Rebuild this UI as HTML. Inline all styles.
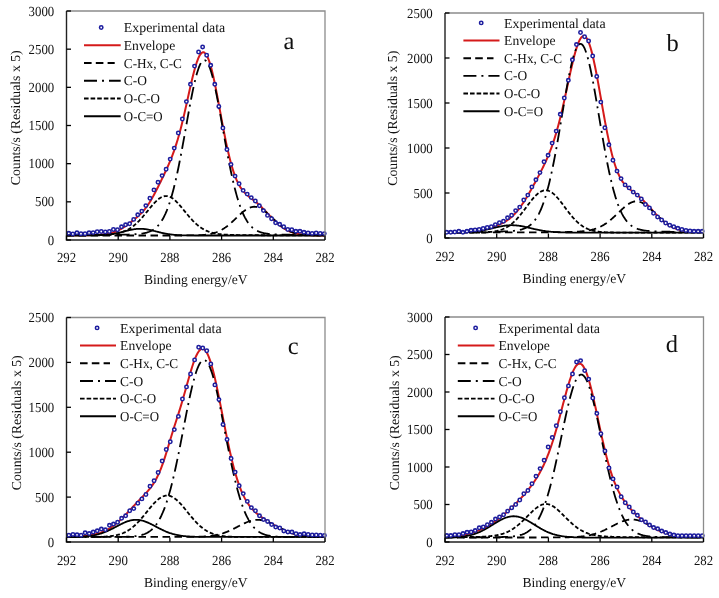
<!DOCTYPE html>
<html><head><meta charset="utf-8"><style>
html,body{margin:0;padding:0;background:#fff;}
svg{display:block; will-change:transform;}
text{font-family:"Liberation Serif", serif; fill:#111; text-rendering:geometricPrecision;}
circle{fill:#fff; stroke:#1c1c9e; stroke-width:1.55;}
</style></head><body>
<svg width="719" height="598" viewBox="0 0 719 598">
<g>
<polyline points="66.5,235.34 67.15,235.33 67.79,235.33 68.44,235.33 69.09,235.32 69.73,235.32 70.38,235.32 71.02,235.31 71.67,235.31 72.32,235.31 72.96,235.3 73.61,235.3 74.26,235.29 74.9,235.29 75.55,235.29 76.19,235.28 76.84,235.28 77.49,235.27 78.13,235.27 78.78,235.26 79.42,235.26 80.07,235.25 80.72,235.25 81.36,235.24 82.01,235.23 82.66,235.23 83.3,235.22 83.95,235.21 84.59,235.21 85.24,235.2 85.89,235.19 86.53,235.18 87.18,235.17 87.83,235.16 88.47,235.15 89.12,235.14 89.76,235.13 90.41,235.11 91.06,235.1 91.7,235.08 92.35,235.07 93,235.05 93.64,235.03 94.29,235.01 94.94,234.99 95.58,234.96 96.23,234.93 96.87,234.9 97.52,234.87 98.17,234.84 98.81,234.8 99.46,234.76 100.11,234.71 100.75,234.66 101.4,234.61 102.04,234.55 102.69,234.49 103.34,234.42 103.98,234.34 104.63,234.26 105.28,234.17 105.92,234.08 106.57,233.97 107.21,233.86 107.86,233.74 108.51,233.61 109.15,233.48 109.8,233.33 110.44,233.17 111.09,233 111.74,232.82 112.38,232.63 113.03,232.43 113.68,232.22 114.32,231.99 114.97,231.75 115.61,231.5 116.26,231.24 116.91,230.96 117.55,230.67 118.2,230.37 118.85,230.05 119.49,229.72 120.14,229.38 120.79,229.03 121.43,228.66 122.08,228.28 122.72,227.89 123.37,227.48 124.02,227.07 124.66,226.64 125.31,226.21 125.96,225.76 126.6,225.31 127.25,224.84 127.89,224.37 128.54,223.89 129.19,223.4 129.83,222.91 130.48,222.42 131.12,221.91 131.77,221.41 132.42,220.9 133.06,220.38 133.71,219.86 134.36,219.34 135,218.81 135.65,218.28 136.29,217.74 136.94,217.19 137.59,216.63 138.23,216.06 138.88,215.48 139.53,214.88 140.17,214.27 140.82,213.63 141.46,212.98 142.11,212.3 142.76,211.6 143.4,210.87 144.05,210.11 144.7,209.32 145.34,208.5 145.99,207.66 146.64,206.78 147.28,205.87 147.93,204.93 148.57,203.96 149.22,202.96 149.87,201.92 150.51,200.87 151.16,199.78 151.81,198.67 152.45,197.53 153.1,196.37 153.74,195.19 154.39,193.98 155.04,192.76 155.68,191.53 156.33,190.27 156.97,189.01 157.62,187.73 158.27,186.44 158.91,185.14 159.56,183.84 160.21,182.52 160.85,181.2 161.5,179.87 162.14,178.54 162.79,177.2 163.44,175.84 164.08,174.49 164.73,173.12 165.38,171.74 166.02,170.34 166.67,168.93 167.31,167.51 167.96,166.06 168.61,164.59 169.25,163.09 169.9,161.56 170.55,160 171.19,158.41 171.84,156.77 172.49,155.09 173.13,153.36 173.78,151.58 174.42,149.75 175.07,147.86 175.72,145.91 176.36,143.9 177.01,141.82 177.66,139.68 178.3,137.47 178.95,135.19 179.59,132.85 180.24,130.43 180.89,127.95 181.53,125.41 182.18,122.81 182.82,120.14 183.47,117.43 184.12,114.66 184.76,111.85 185.41,109 186.06,106.11 186.7,103.21 187.35,100.29 187.99,97.36 188.64,94.43 189.29,91.52 189.93,88.63 190.58,85.77 191.23,82.96 191.87,80.21 192.52,77.52 193.16,74.9 193.81,72.38 194.46,69.96 195.1,67.66 195.75,65.48 196.4,63.43 197.04,61.53 197.69,59.78 198.34,58.2 198.98,56.79 199.63,55.56 200.27,54.52 200.92,53.67 201.57,53.03 202.21,52.59 202.86,52.36 203.51,52.33 204.15,52.52 204.8,52.93 205.44,53.55 206.09,54.37 206.74,55.41 207.38,56.65 208.03,58.1 208.68,59.74 209.32,61.57 209.97,63.58 210.61,65.76 211.26,68.11 211.91,70.62 212.55,73.27 213.2,76.06 213.84,78.98 214.49,82 215.14,85.13 215.78,88.35 216.43,91.65 217.08,95.02 217.72,98.43 218.37,101.89 219.01,105.38 219.66,108.89 220.31,112.4 220.95,115.91 221.6,119.4 222.25,122.87 222.89,126.3 223.54,129.69 224.19,133.02 224.83,136.3 225.48,139.5 226.12,142.63 226.77,145.68 227.42,148.64 228.06,151.51 228.71,154.28 229.36,156.95 230,159.53 230.65,162 231.29,164.36 231.94,166.63 232.59,168.78 233.23,170.83 233.88,172.78 234.53,174.62 235.17,176.37 235.82,178.02 236.46,179.57 237.11,181.03 237.76,182.4 238.4,183.69 239.05,184.9 239.69,186.03 240.34,187.09 240.99,188.08 241.63,189.01 242.28,189.88 242.93,190.69 243.57,191.46 244.22,192.19 244.86,192.87 245.51,193.52 246.16,194.14 246.8,194.73 247.45,195.29 248.1,195.84 248.74,196.37 249.39,196.89 250.04,197.4 250.68,197.91 251.33,198.41 251.97,198.91 252.62,199.41 253.27,199.91 253.91,200.42 254.56,200.94 255.21,201.47 255.85,202 256.5,202.54 257.14,203.1 257.79,203.66 258.44,204.24 259.08,204.83 259.73,205.43 260.38,206.04 261.02,206.66 261.67,207.3 262.31,207.94 262.96,208.59 263.61,209.25 264.25,209.92 264.9,210.6 265.54,211.28 266.19,211.96 266.84,212.65 267.48,213.34 268.13,214.03 268.78,214.71 269.42,215.4 270.07,216.09 270.71,216.77 271.36,217.44 272.01,218.11 272.65,218.78 273.3,219.43 273.95,220.08 274.59,220.71 275.24,221.33 275.89,221.95 276.53,222.55 277.18,223.13 277.82,223.71 278.47,224.26 279.12,224.81 279.76,225.34 280.41,225.85 281.06,226.34 281.7,226.82 282.35,227.29 282.99,227.74 283.64,228.17 284.29,228.58 284.93,228.98 285.58,229.36 286.23,229.73 286.87,230.08 287.52,230.41 288.16,230.73 288.81,231.03 289.46,231.32 290.1,231.6 290.75,231.86 291.39,232.1 292.04,232.34 292.69,232.56 293.33,232.76 293.98,232.96 294.63,233.14 295.27,233.32 295.92,233.48 296.56,233.63 297.21,233.77 297.86,233.91 298.5,234.03 299.15,234.15 299.8,234.25 300.44,234.35 301.09,234.45 301.74,234.53 302.38,234.61 303.03,234.69 303.67,234.76 304.32,234.82 304.97,234.88 305.61,234.93 306.26,234.98 306.91,235.03 307.55,235.07 308.2,235.11 308.84,235.14 309.49,235.17 310.14,235.2 310.78,235.23 311.43,235.25 312.07,235.28 312.72,235.3 313.37,235.31 314.01,235.33 314.66,235.35 315.31,235.36 315.95,235.37 316.6,235.38 317.24,235.39 317.89,235.4 318.54,235.41 319.18,235.42 319.83,235.42 320.48,235.43 321.12,235.43 321.77,235.44 322.41,235.44 323.06,235.45 323.71,235.45 324.35,235.45 325,235.46" fill="none" stroke="#d51a1a" stroke-width="2"/>
<polyline points="66.5,235.5 67.15,235.5 67.79,235.5 68.44,235.5 69.09,235.5 69.73,235.5 70.38,235.5 71.02,235.5 71.67,235.5 72.32,235.5 72.96,235.5 73.61,235.5 74.26,235.5 74.9,235.49 75.55,235.49 76.19,235.49 76.84,235.49 77.49,235.49 78.13,235.49 78.78,235.49 79.42,235.49 80.07,235.49 80.72,235.49 81.36,235.49 82.01,235.49 82.66,235.49 83.3,235.48 83.95,235.48 84.59,235.48 85.24,235.48 85.89,235.48 86.53,235.47 87.18,235.47 87.83,235.47 88.47,235.46 89.12,235.46 89.76,235.45 90.41,235.45 91.06,235.44 91.7,235.43 92.35,235.42 93,235.41 93.64,235.4 94.29,235.39 94.94,235.38 95.58,235.36 96.23,235.35 96.87,235.33 97.52,235.31 98.17,235.29 98.81,235.27 99.46,235.24 100.11,235.21 100.75,235.18 101.4,235.15 102.04,235.11 102.69,235.07 103.34,235.03 103.98,234.99 104.63,234.94 105.28,234.89 105.92,234.83 106.57,234.77 107.21,234.71 107.86,234.64 108.51,234.56 109.15,234.49 109.8,234.41 110.44,234.32 111.09,234.23 111.74,234.13 112.38,234.03 113.03,233.92 113.68,233.81 114.32,233.7 114.97,233.57 115.61,233.45 116.26,233.32 116.91,233.18 117.55,233.04 118.2,232.9 118.85,232.75 119.49,232.6 120.14,232.45 120.79,232.29 121.43,232.13 122.08,231.97 122.72,231.81 123.37,231.64 124.02,231.48 124.66,231.31 125.31,231.15 125.96,230.99 126.6,230.82 127.25,230.66 127.89,230.51 128.54,230.35 129.19,230.2 129.83,230.06 130.48,229.92 131.12,229.78 131.77,229.65 132.42,229.53 133.06,229.42 133.71,229.31 134.36,229.22 135,229.13 135.65,229.05 136.29,228.98 136.94,228.92 137.59,228.87 138.23,228.84 138.88,228.81 139.53,228.79 140.17,228.79 140.82,228.79 141.46,228.81 142.11,228.84 142.76,228.88 143.4,228.93 144.05,228.99 144.7,229.06 145.34,229.14 145.99,229.22 146.64,229.32 147.28,229.43 147.93,229.54 148.57,229.67 149.22,229.79 149.87,229.93 150.51,230.07 151.16,230.22 151.81,230.37 152.45,230.52 153.1,230.68 153.74,230.84 154.39,231 155.04,231.17 155.68,231.33 156.33,231.5 156.97,231.66 157.62,231.82 158.27,231.99 158.91,232.15 159.56,232.31 160.21,232.46 160.85,232.62 161.5,232.77 162.14,232.91 162.79,233.06 163.44,233.2 164.08,233.33 164.73,233.46 165.38,233.59 166.02,233.71 166.67,233.82 167.31,233.93 167.96,234.04 168.61,234.14 169.25,234.24 169.9,234.33 170.55,234.41 171.19,234.49 171.84,234.57 172.49,234.64 173.13,234.71 173.78,234.78 174.42,234.84 175.07,234.89 175.72,234.94 176.36,234.99 177.01,235.04 177.66,235.08 178.3,235.12 178.95,235.15 179.59,235.18 180.24,235.22 180.89,235.24 181.53,235.27 182.18,235.29 182.82,235.31 183.47,235.33 184.12,235.35 184.76,235.36 185.41,235.38 186.06,235.39 186.7,235.4 187.35,235.41 187.99,235.42 188.64,235.43 189.29,235.44 189.93,235.45 190.58,235.45 191.23,235.46 191.87,235.46 192.52,235.47 193.16,235.47 193.81,235.47 194.46,235.48 195.1,235.48 195.75,235.48 196.4,235.48 197.04,235.49 197.69,235.49 198.34,235.49 198.98,235.49 199.63,235.49 200.27,235.49 200.92,235.49 201.57,235.49 202.21,235.49 202.86,235.49 203.51,235.49 204.15,235.49 204.8,235.49 205.44,235.49 206.09,235.5 206.74,235.5 207.38,235.5 208.03,235.5 208.68,235.5 209.32,235.5 209.97,235.5 210.61,235.5 211.26,235.5 211.91,235.5 212.55,235.5 213.2,235.5 213.84,235.5 214.49,235.5 215.14,235.5 215.78,235.5 216.43,235.5 217.08,235.5 217.72,235.5 218.37,235.5 219.01,235.5 219.66,235.5 220.31,235.5 220.95,235.5 221.6,235.5 222.25,235.5 222.89,235.5 223.54,235.5 224.19,235.5 224.83,235.5 225.48,235.5 226.12,235.5 226.77,235.5 227.42,235.5 228.06,235.5 228.71,235.5 229.36,235.5 230,235.5 230.65,235.5 231.29,235.5 231.94,235.5 232.59,235.5 233.23,235.5 233.88,235.5 234.53,235.5 235.17,235.5 235.82,235.5 236.46,235.5 237.11,235.5 237.76,235.5 238.4,235.5 239.05,235.5 239.69,235.5 240.34,235.5 240.99,235.5 241.63,235.5 242.28,235.5 242.93,235.5 243.57,235.5 244.22,235.5 244.86,235.5 245.51,235.5 246.16,235.5 246.8,235.5 247.45,235.5 248.1,235.5 248.74,235.5 249.39,235.5 250.04,235.5 250.68,235.5 251.33,235.5 251.97,235.5 252.62,235.5 253.27,235.5 253.91,235.5 254.56,235.5 255.21,235.5 255.85,235.5 256.5,235.5 257.14,235.5 257.79,235.5 258.44,235.5 259.08,235.5 259.73,235.5 260.38,235.5 261.02,235.5 261.67,235.5 262.31,235.5 262.96,235.5 263.61,235.5 264.25,235.5 264.9,235.5 265.54,235.5 266.19,235.5 266.84,235.5 267.48,235.5 268.13,235.5 268.78,235.5 269.42,235.5 270.07,235.5 270.71,235.5 271.36,235.5 272.01,235.5 272.65,235.5 273.3,235.5 273.95,235.5 274.59,235.5 275.24,235.5 275.89,235.5 276.53,235.5 277.18,235.5 277.82,235.5 278.47,235.5 279.12,235.5 279.76,235.5 280.41,235.5 281.06,235.5 281.7,235.5 282.35,235.5 282.99,235.5 283.64,235.5 284.29,235.5 284.93,235.5 285.58,235.5 286.23,235.5 286.87,235.5 287.52,235.5 288.16,235.5 288.81,235.5 289.46,235.5 290.1,235.5 290.75,235.5 291.39,235.5 292.04,235.5 292.69,235.5 293.33,235.5 293.98,235.5 294.63,235.5 295.27,235.5 295.92,235.5 296.56,235.5 297.21,235.5 297.86,235.5 298.5,235.5 299.15,235.5 299.8,235.5 300.44,235.5 301.09,235.5 301.74,235.5 302.38,235.5 303.03,235.5 303.67,235.5 304.32,235.5 304.97,235.5 305.61,235.5 306.26,235.5 306.91,235.5 307.55,235.5 308.2,235.5 308.84,235.5 309.49,235.5 310.14,235.5 310.78,235.5 311.43,235.5 312.07,235.5 312.72,235.5 313.37,235.5 314.01,235.5 314.66,235.5 315.31,235.5 315.95,235.5 316.6,235.5 317.24,235.5 317.89,235.5 318.54,235.5 319.18,235.5 319.83,235.5 320.48,235.5 321.12,235.5 321.77,235.5 322.41,235.5 323.06,235.5 323.71,235.5 324.35,235.5 325,235.5" fill="none" stroke="#000" stroke-width="1.8"/>
<polyline points="66.5,235.26 67.15,235.25 67.79,235.25 68.44,235.25 69.09,235.24 69.73,235.24 70.38,235.24 71.02,235.23 71.67,235.23 72.32,235.23 72.96,235.22 73.61,235.22 74.26,235.22 74.9,235.21 75.55,235.21 76.19,235.2 76.84,235.2 77.49,235.2 78.13,235.19 78.78,235.19 79.42,235.18 80.07,235.18 80.72,235.17 81.36,235.17 82.01,235.16 82.66,235.16 83.3,235.15 83.95,235.15 84.59,235.14 85.24,235.14 85.89,235.13 86.53,235.12 87.18,235.12 87.83,235.11 88.47,235.1 89.12,235.1 89.76,235.09 90.41,235.08 91.06,235.07 91.7,235.07 92.35,235.06 93,235.05 93.64,235.04 94.29,235.03 94.94,235.02 95.58,235 96.23,234.99 96.87,234.98 97.52,234.96 98.17,234.95 98.81,234.93 99.46,234.92 100.11,234.9 100.75,234.88 101.4,234.86 102.04,234.83 102.69,234.81 103.34,234.78 103.98,234.75 104.63,234.72 105.28,234.69 105.92,234.66 106.57,234.62 107.21,234.58 107.86,234.53 108.51,234.49 109.15,234.43 109.8,234.38 110.44,234.32 111.09,234.26 111.74,234.19 112.38,234.11 113.03,234.03 113.68,233.95 114.32,233.86 114.97,233.76 115.61,233.65 116.26,233.54 116.91,233.41 117.55,233.28 118.2,233.14 118.85,232.99 119.49,232.83 120.14,232.66 120.79,232.48 121.43,232.29 122.08,232.09 122.72,231.87 123.37,231.64 124.02,231.39 124.66,231.13 125.31,230.86 125.96,230.57 126.6,230.26 127.25,229.94 127.89,229.6 128.54,229.25 129.19,228.88 129.83,228.48 130.48,228.08 131.12,227.65 131.77,227.2 132.42,226.74 133.06,226.25 133.71,225.75 134.36,225.22 135,224.68 135.65,224.12 136.29,223.54 136.94,222.94 137.59,222.32 138.23,221.69 138.88,221.04 139.53,220.37 140.17,219.68 140.82,218.98 141.46,218.27 142.11,217.54 142.76,216.79 143.4,216.04 144.05,215.28 144.7,214.51 145.34,213.73 145.99,212.94 146.64,212.15 147.28,211.36 147.93,210.57 148.57,209.77 149.22,208.98 149.87,208.19 150.51,207.41 151.16,206.64 151.81,205.88 152.45,205.13 153.1,204.4 153.74,203.68 154.39,202.98 155.04,202.31 155.68,201.66 156.33,201.03 156.97,200.43 157.62,199.86 158.27,199.33 158.91,198.82 159.56,198.36 160.21,197.93 160.85,197.54 161.5,197.2 162.14,196.89 162.79,196.64 163.44,196.42 164.08,196.25 164.73,196.13 165.38,196.06 166.02,196.04 166.67,196.06 167.31,196.13 167.96,196.25 168.61,196.42 169.25,196.63 169.9,196.89 170.55,197.19 171.19,197.54 171.84,197.93 172.49,198.35 173.13,198.82 173.78,199.32 174.42,199.86 175.07,200.43 175.72,201.02 176.36,201.65 177.01,202.3 177.66,202.98 178.3,203.68 178.95,204.39 179.59,205.13 180.24,205.87 180.89,206.64 181.53,207.41 182.18,208.19 182.82,208.97 183.47,209.77 184.12,210.56 184.76,211.35 185.41,212.15 186.06,212.94 186.7,213.72 187.35,214.5 187.99,215.27 188.64,216.04 189.29,216.79 189.93,217.53 190.58,218.26 191.23,218.97 191.87,219.68 192.52,220.36 193.16,221.03 193.81,221.68 194.46,222.32 195.1,222.94 195.75,223.53 196.4,224.12 197.04,224.68 197.69,225.22 198.34,225.74 198.98,226.25 199.63,226.73 200.27,227.2 200.92,227.64 201.57,228.07 202.21,228.48 202.86,228.87 203.51,229.25 204.15,229.6 204.8,229.94 205.44,230.26 206.09,230.57 206.74,230.86 207.38,231.13 208.03,231.39 208.68,231.63 209.32,231.87 209.97,232.08 210.61,232.29 211.26,232.48 211.91,232.66 212.55,232.83 213.2,232.99 213.84,233.14 214.49,233.28 215.14,233.41 215.78,233.53 216.43,233.65 217.08,233.76 217.72,233.85 218.37,233.95 219.01,234.03 219.66,234.11 220.31,234.19 220.95,234.26 221.6,234.32 222.25,234.38 222.89,234.43 223.54,234.49 224.19,234.53 224.83,234.58 225.48,234.62 226.12,234.66 226.77,234.69 227.42,234.72 228.06,234.75 228.71,234.78 229.36,234.81 230,234.83 230.65,234.86 231.29,234.88 231.94,234.9 232.59,234.91 233.23,234.93 233.88,234.95 234.53,234.96 235.17,234.98 235.82,234.99 236.46,235 237.11,235.02 237.76,235.03 238.4,235.04 239.05,235.05 239.69,235.06 240.34,235.07 240.99,235.07 241.63,235.08 242.28,235.09 242.93,235.1 243.57,235.1 244.22,235.11 244.86,235.12 245.51,235.12 246.16,235.13 246.8,235.14 247.45,235.14 248.1,235.15 248.74,235.15 249.39,235.16 250.04,235.16 250.68,235.17 251.33,235.17 251.97,235.18 252.62,235.18 253.27,235.19 253.91,235.19 254.56,235.2 255.21,235.2 255.85,235.2 256.5,235.21 257.14,235.21 257.79,235.22 258.44,235.22 259.08,235.22 259.73,235.23 260.38,235.23 261.02,235.23 261.67,235.24 262.31,235.24 262.96,235.24 263.61,235.25 264.25,235.25 264.9,235.25 265.54,235.26 266.19,235.26 266.84,235.26 267.48,235.27 268.13,235.27 268.78,235.27 269.42,235.27 270.07,235.28 270.71,235.28 271.36,235.28 272.01,235.28 272.65,235.29 273.3,235.29 273.95,235.29 274.59,235.29 275.24,235.3 275.89,235.3 276.53,235.3 277.18,235.3 277.82,235.3 278.47,235.31 279.12,235.31 279.76,235.31 280.41,235.31 281.06,235.31 281.7,235.32 282.35,235.32 282.99,235.32 283.64,235.32 284.29,235.32 284.93,235.33 285.58,235.33 286.23,235.33 286.87,235.33 287.52,235.33 288.16,235.33 288.81,235.34 289.46,235.34 290.1,235.34 290.75,235.34 291.39,235.34 292.04,235.34 292.69,235.35 293.33,235.35 293.98,235.35 294.63,235.35 295.27,235.35 295.92,235.35 296.56,235.35 297.21,235.36 297.86,235.36 298.5,235.36 299.15,235.36 299.8,235.36 300.44,235.36 301.09,235.36 301.74,235.36 302.38,235.37 303.03,235.37 303.67,235.37 304.32,235.37 304.97,235.37 305.61,235.37 306.26,235.37 306.91,235.37 307.55,235.37 308.2,235.38 308.84,235.38 309.49,235.38 310.14,235.38 310.78,235.38 311.43,235.38 312.07,235.38 312.72,235.38 313.37,235.38 314.01,235.38 314.66,235.39 315.31,235.39 315.95,235.39 316.6,235.39 317.24,235.39 317.89,235.39 318.54,235.39 319.18,235.39 319.83,235.39 320.48,235.39 321.12,235.39 321.77,235.4 322.41,235.4 323.06,235.4 323.71,235.4 324.35,235.4 325,235.4" fill="none" stroke="#000" stroke-width="1.8" stroke-dasharray="4 2.2"/>
<polyline points="66.5,235.5 67.15,235.5 67.79,235.5 68.44,235.5 69.09,235.5 69.73,235.5 70.38,235.5 71.02,235.5 71.67,235.5 72.32,235.5 72.96,235.5 73.61,235.5 74.26,235.5 74.9,235.5 75.55,235.5 76.19,235.5 76.84,235.5 77.49,235.5 78.13,235.5 78.78,235.5 79.42,235.5 80.07,235.5 80.72,235.5 81.36,235.5 82.01,235.5 82.66,235.5 83.3,235.5 83.95,235.5 84.59,235.5 85.24,235.5 85.89,235.5 86.53,235.5 87.18,235.5 87.83,235.5 88.47,235.5 89.12,235.5 89.76,235.5 90.41,235.5 91.06,235.5 91.7,235.5 92.35,235.5 93,235.5 93.64,235.5 94.29,235.5 94.94,235.5 95.58,235.5 96.23,235.5 96.87,235.5 97.52,235.5 98.17,235.5 98.81,235.5 99.46,235.5 100.11,235.5 100.75,235.5 101.4,235.5 102.04,235.5 102.69,235.5 103.34,235.5 103.98,235.5 104.63,235.5 105.28,235.5 105.92,235.5 106.57,235.5 107.21,235.5 107.86,235.5 108.51,235.5 109.15,235.5 109.8,235.5 110.44,235.5 111.09,235.5 111.74,235.5 112.38,235.5 113.03,235.5 113.68,235.5 114.32,235.5 114.97,235.5 115.61,235.5 116.26,235.5 116.91,235.5 117.55,235.5 118.2,235.5 118.85,235.5 119.49,235.5 120.14,235.5 120.79,235.5 121.43,235.5 122.08,235.5 122.72,235.5 123.37,235.5 124.02,235.5 124.66,235.5 125.31,235.5 125.96,235.5 126.6,235.5 127.25,235.5 127.89,235.5 128.54,235.5 129.19,235.5 129.83,235.5 130.48,235.5 131.12,235.5 131.77,235.5 132.42,235.5 133.06,235.5 133.71,235.5 134.36,235.5 135,235.5 135.65,235.5 136.29,235.5 136.94,235.5 137.59,235.5 138.23,235.5 138.88,235.5 139.53,235.5 140.17,235.5 140.82,235.5 141.46,235.5 142.11,235.5 142.76,235.5 143.4,235.5 144.05,235.5 144.7,235.5 145.34,235.5 145.99,235.5 146.64,235.5 147.28,235.5 147.93,235.5 148.57,235.5 149.22,235.5 149.87,235.5 150.51,235.5 151.16,235.5 151.81,235.5 152.45,235.5 153.1,235.5 153.74,235.5 154.39,235.5 155.04,235.5 155.68,235.5 156.33,235.5 156.97,235.5 157.62,235.5 158.27,235.5 158.91,235.5 159.56,235.5 160.21,235.5 160.85,235.5 161.5,235.5 162.14,235.5 162.79,235.5 163.44,235.5 164.08,235.5 164.73,235.5 165.38,235.5 166.02,235.5 166.67,235.5 167.31,235.5 167.96,235.5 168.61,235.5 169.25,235.5 169.9,235.5 170.55,235.5 171.19,235.5 171.84,235.5 172.49,235.5 173.13,235.5 173.78,235.49 174.42,235.49 175.07,235.49 175.72,235.49 176.36,235.49 177.01,235.49 177.66,235.49 178.3,235.49 178.95,235.49 179.59,235.49 180.24,235.49 180.89,235.49 181.53,235.49 182.18,235.49 182.82,235.48 183.47,235.48 184.12,235.48 184.76,235.48 185.41,235.47 186.06,235.47 186.7,235.47 187.35,235.46 187.99,235.46 188.64,235.45 189.29,235.45 189.93,235.44 190.58,235.44 191.23,235.43 191.87,235.42 192.52,235.41 193.16,235.4 193.81,235.38 194.46,235.37 195.1,235.36 195.75,235.34 196.4,235.32 197.04,235.3 197.69,235.27 198.34,235.25 198.98,235.22 199.63,235.19 200.27,235.15 200.92,235.12 201.57,235.07 202.21,235.03 202.86,234.98 203.51,234.92 204.15,234.87 204.8,234.8 205.44,234.73 206.09,234.65 206.74,234.57 207.38,234.48 208.03,234.38 208.68,234.28 209.32,234.17 209.97,234.05 210.61,233.91 211.26,233.77 211.91,233.62 212.55,233.46 213.2,233.29 213.84,233.11 214.49,232.91 215.14,232.7 215.78,232.48 216.43,232.25 217.08,232 217.72,231.74 218.37,231.46 219.01,231.17 219.66,230.86 220.31,230.54 220.95,230.2 221.6,229.85 222.25,229.48 222.89,229.09 223.54,228.69 224.19,228.27 224.83,227.83 225.48,227.38 226.12,226.91 226.77,226.43 227.42,225.94 228.06,225.42 228.71,224.9 229.36,224.36 230,223.81 230.65,223.25 231.29,222.67 231.94,222.09 232.59,221.49 233.23,220.89 233.88,220.29 234.53,219.67 235.17,219.06 235.82,218.44 236.46,217.82 237.11,217.2 237.76,216.58 238.4,215.97 239.05,215.36 239.69,214.76 240.34,214.17 240.99,213.59 241.63,213.02 242.28,212.47 242.93,211.93 243.57,211.42 244.22,210.92 244.86,210.44 245.51,209.98 246.16,209.55 246.8,209.15 247.45,208.77 248.1,208.43 248.74,208.11 249.39,207.82 250.04,207.57 250.68,207.35 251.33,207.16 251.97,207.01 252.62,206.89 253.27,206.81 253.91,206.77 254.56,206.76 255.21,206.79 255.85,206.85 256.5,206.95 257.14,207.09 257.79,207.26 258.44,207.47 259.08,207.7 259.73,207.98 260.38,208.28 261.02,208.61 261.67,208.98 262.31,209.37 262.96,209.79 263.61,210.23 264.25,210.7 264.9,211.19 265.54,211.7 266.19,212.23 266.84,212.77 267.48,213.34 268.13,213.91 268.78,214.5 269.42,215.09 270.07,215.7 270.71,216.31 271.36,216.92 272.01,217.54 272.65,218.16 273.3,218.78 273.95,219.4 274.59,220.01 275.24,220.62 275.89,221.23 276.53,221.82 277.18,222.41 277.82,222.99 278.47,223.56 279.12,224.11 279.76,224.66 280.41,225.19 281.06,225.71 281.7,226.21 282.35,226.7 282.99,227.17 283.64,227.63 284.29,228.07 284.93,228.5 285.58,228.91 286.23,229.3 286.87,229.68 287.52,230.04 288.16,230.39 288.81,230.72 289.46,231.03 290.1,231.33 290.75,231.62 291.39,231.88 292.04,232.14 292.69,232.38 293.33,232.61 293.98,232.82 294.63,233.02 295.27,233.21 295.92,233.39 296.56,233.55 297.21,233.71 297.86,233.85 298.5,233.99 299.15,234.11 299.8,234.23 300.44,234.34 301.09,234.44 301.74,234.53 302.38,234.62 303.03,234.7 303.67,234.77 304.32,234.84 304.97,234.9 305.61,234.96 306.26,235.01 306.91,235.05 307.55,235.1 308.2,235.14 308.84,235.17 309.49,235.21 310.14,235.24 310.78,235.26 311.43,235.29 312.07,235.31 312.72,235.33 313.37,235.35 314.01,235.36 314.66,235.38 315.31,235.39 315.95,235.4 316.6,235.41 317.24,235.42 317.89,235.43 318.54,235.44 319.18,235.45 319.83,235.45 320.48,235.46 321.12,235.46 321.77,235.47 322.41,235.47 323.06,235.47 323.71,235.48 324.35,235.48 325,235.48" fill="none" stroke="#000" stroke-width="1.8" stroke-dasharray="7.5 4.5"/>
<polyline points="66.5,235.21 67.15,235.2 67.79,235.2 68.44,235.2 69.09,235.19 69.73,235.19 70.38,235.19 71.02,235.19 71.67,235.18 72.32,235.18 72.96,235.18 73.61,235.17 74.26,235.17 74.9,235.17 75.55,235.16 76.19,235.16 76.84,235.16 77.49,235.15 78.13,235.15 78.78,235.15 79.42,235.14 80.07,235.14 80.72,235.14 81.36,235.13 82.01,235.13 82.66,235.13 83.3,235.12 83.95,235.12 84.59,235.11 85.24,235.11 85.89,235.11 86.53,235.1 87.18,235.1 87.83,235.09 88.47,235.09 89.12,235.08 89.76,235.08 90.41,235.07 91.06,235.07 91.7,235.07 92.35,235.06 93,235.06 93.64,235.05 94.29,235.05 94.94,235.04 95.58,235.04 96.23,235.03 96.87,235.02 97.52,235.02 98.17,235.01 98.81,235.01 99.46,235 100.11,235 100.75,234.99 101.4,234.98 102.04,234.98 102.69,234.97 103.34,234.97 103.98,234.96 104.63,234.95 105.28,234.95 105.92,234.94 106.57,234.93 107.21,234.92 107.86,234.92 108.51,234.91 109.15,234.9 109.8,234.89 110.44,234.89 111.09,234.88 111.74,234.87 112.38,234.86 113.03,234.85 113.68,234.84 114.32,234.83 114.97,234.82 115.61,234.81 116.26,234.81 116.91,234.79 117.55,234.78 118.2,234.77 118.85,234.76 119.49,234.75 120.14,234.74 120.79,234.73 121.43,234.72 122.08,234.7 122.72,234.69 123.37,234.68 124.02,234.66 124.66,234.65 125.31,234.63 125.96,234.61 126.6,234.6 127.25,234.58 127.89,234.56 128.54,234.54 129.19,234.52 129.83,234.5 130.48,234.47 131.12,234.45 131.77,234.42 132.42,234.39 133.06,234.36 133.71,234.33 134.36,234.29 135,234.25 135.65,234.21 136.29,234.17 136.94,234.12 137.59,234.06 138.23,234.01 138.88,233.94 139.53,233.88 140.17,233.8 140.82,233.72 141.46,233.64 142.11,233.54 142.76,233.44 143.4,233.32 144.05,233.2 144.7,233.07 145.34,232.92 145.99,232.76 146.64,232.59 147.28,232.4 147.93,232.2 148.57,231.98 149.22,231.74 149.87,231.48 150.51,231.19 151.16,230.88 151.81,230.55 152.45,230.19 153.1,229.8 153.74,229.38 154.39,228.93 155.04,228.44 155.68,227.91 156.33,227.34 156.97,226.73 157.62,226.08 158.27,225.38 158.91,224.63 159.56,223.83 160.21,222.97 160.85,222.06 161.5,221.09 162.14,220.05 162.79,218.95 163.44,217.78 164.08,216.54 164.73,215.23 165.38,213.84 166.02,212.38 166.67,210.84 167.31,209.22 167.96,207.51 168.61,205.72 169.25,203.84 169.9,201.87 170.55,199.81 171.19,197.67 171.84,195.43 172.49,193.11 173.13,190.69 173.78,188.18 174.42,185.58 175.07,182.9 175.72,180.12 176.36,177.27 177.01,174.32 177.66,171.3 178.3,168.2 178.95,165.03 179.59,161.78 180.24,158.48 180.89,155.11 181.53,151.68 182.18,148.21 182.82,144.69 183.47,141.13 184.12,137.55 184.76,133.94 185.41,130.32 186.06,126.69 186.7,123.06 187.35,119.44 187.99,115.85 188.64,112.28 189.29,108.75 189.93,105.27 190.58,101.85 191.23,98.49 191.87,95.22 192.52,92.03 193.16,88.94 193.81,85.96 194.46,83.1 195.1,80.36 195.75,77.77 196.4,75.32 197.04,73.03 197.69,70.9 198.34,68.94 198.98,67.16 199.63,65.58 200.27,64.18 200.92,62.98 201.57,61.99 202.21,61.2 202.86,60.63 203.51,60.27 204.15,60.12 204.8,60.19 205.44,60.48 206.09,60.98 206.74,61.69 207.38,62.61 208.03,63.74 208.68,65.06 209.32,66.58 209.97,68.29 210.61,70.19 211.26,72.26 211.91,74.49 212.55,76.89 213.2,79.43 213.84,82.12 214.49,84.94 215.14,87.88 215.78,90.93 216.43,94.08 217.08,97.33 217.72,100.66 218.37,104.06 219.01,107.52 219.66,111.03 220.31,114.59 220.95,118.18 221.6,121.79 222.25,125.41 222.89,129.04 223.54,132.67 224.19,136.28 224.83,139.87 225.48,143.44 226.12,146.97 226.77,150.46 227.42,153.91 228.06,157.3 228.71,160.63 229.36,163.89 230,167.09 230.65,170.22 231.29,173.27 231.94,176.24 232.59,179.13 233.23,181.93 233.88,184.65 234.53,187.28 235.17,189.82 235.82,192.27 236.46,194.62 237.11,196.89 237.76,199.07 238.4,201.16 239.05,203.15 239.69,205.06 240.34,206.89 240.99,208.62 241.63,210.28 242.28,211.85 242.93,213.34 243.57,214.75 244.22,216.09 244.86,217.35 245.51,218.54 246.16,219.67 246.8,220.73 247.45,221.72 248.1,222.66 248.74,223.53 249.39,224.35 250.04,225.12 250.68,225.84 251.33,226.51 251.97,227.13 252.62,227.72 253.27,228.26 253.91,228.76 254.56,229.22 255.21,229.66 255.85,230.06 256.5,230.43 257.14,230.77 257.79,231.09 258.44,231.38 259.08,231.65 259.73,231.9 260.38,232.12 261.02,232.33 261.67,232.53 262.31,232.71 262.96,232.87 263.61,233.02 264.25,233.16 264.9,233.28 265.54,233.4 266.19,233.51 266.84,233.6 267.48,233.69 268.13,233.78 268.78,233.85 269.42,233.92 270.07,233.98 270.71,234.04 271.36,234.1 272.01,234.15 272.65,234.19 273.3,234.24 273.95,234.28 274.59,234.31 275.24,234.35 275.89,234.38 276.53,234.41 277.18,234.44 277.82,234.46 278.47,234.49 279.12,234.51 279.76,234.53 280.41,234.55 281.06,234.57 281.7,234.59 282.35,234.61 282.99,234.63 283.64,234.64 284.29,234.66 284.93,234.67 285.58,234.68 286.23,234.7 286.87,234.71 287.52,234.72 288.16,234.74 288.81,234.75 289.46,234.76 290.1,234.77 290.75,234.78 291.39,234.79 292.04,234.8 292.69,234.81 293.33,234.82 293.98,234.83 294.63,234.84 295.27,234.85 295.92,234.86 296.56,234.87 297.21,234.87 297.86,234.88 298.5,234.89 299.15,234.9 299.8,234.91 300.44,234.91 301.09,234.92 301.74,234.93 302.38,234.94 303.03,234.94 303.67,234.95 304.32,234.96 304.97,234.96 305.61,234.97 306.26,234.98 306.91,234.98 307.55,234.99 308.2,234.99 308.84,235 309.49,235.01 310.14,235.01 310.78,235.02 311.43,235.02 312.07,235.03 312.72,235.03 313.37,235.04 314.01,235.04 314.66,235.05 315.31,235.05 315.95,235.06 316.6,235.06 317.24,235.07 317.89,235.07 318.54,235.08 319.18,235.08 319.83,235.09 320.48,235.09 321.12,235.1 321.77,235.1 322.41,235.1 323.06,235.11 323.71,235.11 324.35,235.12 325,235.12" fill="none" stroke="#000" stroke-width="1.8" stroke-dasharray="13 5 2 5"/>
<circle cx="68.8" cy="233.3" r="1.7"/>
<circle cx="72.85" cy="233.9" r="1.7"/>
<circle cx="76.91" cy="232.8" r="1.7"/>
<circle cx="80.97" cy="233.7" r="1.7"/>
<circle cx="85.02" cy="233.7" r="1.7"/>
<circle cx="89.07" cy="232.8" r="1.7"/>
<circle cx="93.13" cy="232.6" r="1.7"/>
<circle cx="97.19" cy="231.7" r="1.7"/>
<circle cx="101.24" cy="231.5" r="1.7"/>
<circle cx="105.29" cy="231.9" r="1.7"/>
<circle cx="109.35" cy="231.5" r="1.7"/>
<circle cx="113.41" cy="229.5" r="1.7"/>
<circle cx="117.46" cy="229.7" r="1.7"/>
<circle cx="121.51" cy="226.8" r="1.7"/>
<circle cx="125.57" cy="224.8" r="1.7"/>
<circle cx="129.62" cy="223.7" r="1.7"/>
<circle cx="133.68" cy="219.4" r="1.7"/>
<circle cx="137.74" cy="214.8" r="1.7"/>
<circle cx="141.79" cy="211.1" r="1.7"/>
<circle cx="145.84" cy="205.6" r="1.7"/>
<circle cx="149.9" cy="198.2" r="1.7"/>
<circle cx="153.95" cy="189.9" r="1.7"/>
<circle cx="158.01" cy="182.2" r="1.7"/>
<circle cx="162.06" cy="175.6" r="1.7"/>
<circle cx="166.12" cy="169.2" r="1.7"/>
<circle cx="170.18" cy="159.1" r="1.7"/>
<circle cx="174.23" cy="148.1" r="1.7"/>
<circle cx="178.28" cy="133" r="1.7"/>
<circle cx="182.34" cy="119" r="1.7"/>
<circle cx="186.39" cy="101.6" r="1.7"/>
<circle cx="190.45" cy="84.3" r="1.7"/>
<circle cx="194.5" cy="66.1" r="1.7"/>
<circle cx="198.56" cy="52" r="1.7"/>
<circle cx="202.62" cy="46.9" r="1.7"/>
<circle cx="206.67" cy="55.2" r="1.7"/>
<circle cx="210.72" cy="65.3" r="1.7"/>
<circle cx="214.78" cy="84.3" r="1.7"/>
<circle cx="218.83" cy="106.4" r="1.7"/>
<circle cx="222.89" cy="128" r="1.7"/>
<circle cx="226.94" cy="149.5" r="1.7"/>
<circle cx="231" cy="164.4" r="1.7"/>
<circle cx="235.06" cy="176.1" r="1.7"/>
<circle cx="239.11" cy="183.7" r="1.7"/>
<circle cx="243.16" cy="190.4" r="1.7"/>
<circle cx="247.22" cy="194.1" r="1.7"/>
<circle cx="251.27" cy="197.6" r="1.7"/>
<circle cx="255.33" cy="201" r="1.7"/>
<circle cx="259.38" cy="205.8" r="1.7"/>
<circle cx="263.44" cy="210.6" r="1.7"/>
<circle cx="267.5" cy="215.4" r="1.7"/>
<circle cx="271.55" cy="218.7" r="1.7"/>
<circle cx="275.6" cy="222.8" r="1.7"/>
<circle cx="279.66" cy="224.3" r="1.7"/>
<circle cx="283.71" cy="226.7" r="1.7"/>
<circle cx="287.77" cy="229.5" r="1.7"/>
<circle cx="291.82" cy="229.7" r="1.7"/>
<circle cx="295.88" cy="231.3" r="1.7"/>
<circle cx="299.94" cy="231.3" r="1.7"/>
<circle cx="303.99" cy="232.3" r="1.7"/>
<circle cx="308.04" cy="232.9" r="1.7"/>
<circle cx="312.1" cy="233.4" r="1.7"/>
<circle cx="316.15" cy="232.9" r="1.7"/>
<circle cx="320.21" cy="233.4" r="1.7"/>
<circle cx="324.26" cy="233.6" r="1.7"/>
</g>
<path d="M66.5,11H325V240" fill="none" stroke="#8c8c8c" stroke-width="1.3"/>
<path d="M66.5,11V240H325" fill="none" stroke="#222" stroke-width="1.4"/>
<line x1="66.5" y1="240" x2="71.0" y2="240" stroke="#000" stroke-width="1.3"/>
<text x="54.2" y="244.6" text-anchor="end" font-size="13.9" textLength="6.4" lengthAdjust="spacingAndGlyphs">0</text>
<line x1="66.5" y1="201.83" x2="71.0" y2="201.83" stroke="#000" stroke-width="1.3"/>
<text x="54.2" y="206.43" text-anchor="end" font-size="13.9" textLength="19.2" lengthAdjust="spacingAndGlyphs">500</text>
<line x1="66.5" y1="163.67" x2="71.0" y2="163.67" stroke="#000" stroke-width="1.3"/>
<text x="54.2" y="168.27" text-anchor="end" font-size="13.9" textLength="25.6" lengthAdjust="spacingAndGlyphs">1000</text>
<line x1="66.5" y1="125.5" x2="71.0" y2="125.5" stroke="#000" stroke-width="1.3"/>
<text x="54.2" y="130.1" text-anchor="end" font-size="13.9" textLength="25.6" lengthAdjust="spacingAndGlyphs">1500</text>
<line x1="66.5" y1="87.33" x2="71.0" y2="87.33" stroke="#000" stroke-width="1.3"/>
<text x="54.2" y="91.93" text-anchor="end" font-size="13.9" textLength="25.6" lengthAdjust="spacingAndGlyphs">2000</text>
<line x1="66.5" y1="49.17" x2="71.0" y2="49.17" stroke="#000" stroke-width="1.3"/>
<text x="54.2" y="53.77" text-anchor="end" font-size="13.9" textLength="25.6" lengthAdjust="spacingAndGlyphs">2500</text>
<line x1="66.5" y1="11" x2="71.0" y2="11" stroke="#000" stroke-width="1.3"/>
<text x="54.2" y="15.6" text-anchor="end" font-size="13.9" textLength="25.6" lengthAdjust="spacingAndGlyphs">3000</text>
<line x1="66.5" y1="240" x2="66.5" y2="235.5" stroke="#000" stroke-width="1.3"/>
<text x="66.5" y="262.2" text-anchor="middle" font-size="13.9" textLength="19.2" lengthAdjust="spacingAndGlyphs">292</text>
<line x1="118.2" y1="240" x2="118.2" y2="235.5" stroke="#000" stroke-width="1.3"/>
<text x="118.2" y="262.2" text-anchor="middle" font-size="13.9" textLength="19.2" lengthAdjust="spacingAndGlyphs">290</text>
<line x1="169.9" y1="240" x2="169.9" y2="235.5" stroke="#000" stroke-width="1.3"/>
<text x="169.9" y="262.2" text-anchor="middle" font-size="13.9" textLength="19.2" lengthAdjust="spacingAndGlyphs">288</text>
<line x1="221.6" y1="240" x2="221.6" y2="235.5" stroke="#000" stroke-width="1.3"/>
<text x="221.6" y="262.2" text-anchor="middle" font-size="13.9" textLength="19.2" lengthAdjust="spacingAndGlyphs">286</text>
<line x1="273.3" y1="240" x2="273.3" y2="235.5" stroke="#000" stroke-width="1.3"/>
<text x="273.3" y="262.2" text-anchor="middle" font-size="13.9" textLength="19.2" lengthAdjust="spacingAndGlyphs">284</text>
<line x1="325" y1="240" x2="325" y2="235.5" stroke="#000" stroke-width="1.3"/>
<text x="325" y="262.2" text-anchor="middle" font-size="13.9" textLength="19.2" lengthAdjust="spacingAndGlyphs">282</text>
<text x="195.75" y="283.8" text-anchor="middle" font-size="13.7" textLength="103.5" lengthAdjust="spacingAndGlyphs">Binding energy/eV</text>
<text transform="translate(20.4,117.8) rotate(-90)" text-anchor="middle" font-size="13.7" textLength="135" lengthAdjust="spacingAndGlyphs">Counts/s (Residuals x 5)</text>
<text x="283.6" y="49.3" font-size="24.5">a</text>
<circle cx="101.2" cy="27.5" r="1.7"/>
<line x1="84" y1="45.25" x2="120.7" y2="45.25" stroke="#d51a1a" stroke-width="2"/>
<line x1="84" y1="63" x2="114.7" y2="63" stroke="#000" stroke-width="1.9" stroke-dasharray="7.6 4.2"/>
<line x1="84" y1="80.75" x2="120.7" y2="80.75" stroke="#000" stroke-width="1.9" stroke-dasharray="13 5 2 5"/>
<line x1="84" y1="98.5" x2="120.7" y2="98.5" stroke="#000" stroke-width="1.9" stroke-dasharray="4.6 2"/>
<line x1="84" y1="116.25" x2="120.7" y2="116.25" stroke="#000" stroke-width="1.9"/>
<text x="123.8" y="32.1" font-size="13.7" textLength="101.5" lengthAdjust="spacingAndGlyphs">Experimental data</text>
<text x="123.8" y="49.85" font-size="13.7" textLength="51.4" lengthAdjust="spacingAndGlyphs">Envelope</text>
<text x="123.8" y="67.6" font-size="13.7" textLength="58.1" lengthAdjust="spacingAndGlyphs">C-Hx, C-C</text>
<text x="123.8" y="85.35" font-size="13.7" textLength="23.1" lengthAdjust="spacingAndGlyphs">C-O</text>
<text x="123.8" y="103.1" font-size="13.7" textLength="36.1" lengthAdjust="spacingAndGlyphs">O-C-O</text>
<text x="123.8" y="120.85" font-size="13.7" textLength="38.9" lengthAdjust="spacingAndGlyphs">O-C=O</text>
<g>
<polyline points="445,232.52 445.65,232.52 446.29,232.51 446.94,232.51 447.59,232.51 448.23,232.5 448.88,232.5 449.52,232.49 450.17,232.48 450.82,232.48 451.46,232.47 452.11,232.46 452.76,232.45 453.4,232.44 454.05,232.43 454.69,232.42 455.34,232.4 455.99,232.39 456.63,232.37 457.28,232.35 457.93,232.33 458.57,232.31 459.22,232.29 459.86,232.26 460.51,232.23 461.16,232.2 461.8,232.17 462.45,232.14 463.09,232.1 463.74,232.06 464.39,232.02 465.03,231.97 465.68,231.92 466.33,231.87 466.97,231.81 467.62,231.75 468.26,231.69 468.91,231.63 469.56,231.56 470.2,231.48 470.85,231.4 471.5,231.32 472.14,231.24 472.79,231.15 473.44,231.06 474.08,230.96 474.73,230.86 475.37,230.75 476.02,230.64 476.67,230.53 477.31,230.41 477.96,230.29 478.61,230.17 479.25,230.04 479.9,229.91 480.54,229.77 481.19,229.64 481.84,229.5 482.48,229.35 483.13,229.2 483.77,229.05 484.42,228.9 485.07,228.75 485.71,228.59 486.36,228.43 487.01,228.26 487.65,228.1 488.3,227.93 488.94,227.75 489.59,227.58 490.24,227.4 490.88,227.22 491.53,227.04 492.18,226.85 492.82,226.66 493.47,226.46 494.11,226.26 494.76,226.06 495.41,225.85 496.05,225.63 496.7,225.41 497.35,225.18 497.99,224.94 498.64,224.7 499.29,224.45 499.93,224.18 500.58,223.91 501.22,223.63 501.87,223.33 502.52,223.03 503.16,222.7 503.81,222.37 504.46,222.02 505.1,221.65 505.75,221.27 506.39,220.87 507.04,220.45 507.69,220.02 508.33,219.56 508.98,219.09 509.62,218.59 510.27,218.07 510.92,217.53 511.56,216.97 512.21,216.38 512.86,215.77 513.5,215.14 514.15,214.49 514.79,213.8 515.44,213.1 516.09,212.37 516.73,211.62 517.38,210.84 518.03,210.04 518.67,209.22 519.32,208.37 519.96,207.5 520.61,206.61 521.26,205.7 521.9,204.76 522.55,203.81 523.2,202.83 523.84,201.84 524.49,200.83 525.14,199.8 525.78,198.75 526.43,197.69 527.07,196.62 527.72,195.53 528.37,194.43 529.01,193.32 529.66,192.2 530.31,191.06 530.95,189.92 531.6,188.77 532.24,187.61 532.89,186.45 533.54,185.27 534.18,184.09 534.83,182.91 535.48,181.71 536.12,180.52 536.77,179.31 537.41,178.1 538.06,176.88 538.71,175.65 539.35,174.42 540,173.17 540.64,171.92 541.29,170.65 541.94,169.37 542.58,168.07 543.23,166.76 543.88,165.42 544.52,164.07 545.17,162.69 545.81,161.29 546.46,159.85 547.11,158.39 547.75,156.89 548.4,155.36 549.05,153.78 549.69,152.17 550.34,150.51 550.99,148.8 551.63,147.04 552.28,145.23 552.92,143.36 553.57,141.44 554.22,139.45 554.86,137.41 555.51,135.3 556.16,133.13 556.8,130.89 557.45,128.59 558.09,126.22 558.74,123.78 559.39,121.29 560.03,118.73 560.68,116.1 561.33,113.42 561.97,110.69 562.62,107.9 563.26,105.06 563.91,102.18 564.56,99.26 565.2,96.31 565.85,93.33 566.49,90.34 567.14,87.33 567.79,84.32 568.43,81.31 569.08,78.32 569.73,75.35 570.37,72.41 571.02,69.52 571.66,66.68 572.31,63.9 572.96,61.2 573.6,58.58 574.25,56.05 574.9,53.63 575.54,51.33 576.19,49.16 576.84,47.12 577.48,45.22 578.13,43.48 578.77,41.91 579.42,40.51 580.07,39.28 580.71,38.25 581.36,37.4 582.01,36.76 582.65,36.32 583.3,36.08 583.94,36.06 584.59,36.24 585.24,36.64 585.88,37.25 586.53,38.07 587.17,39.11 587.82,40.35 588.47,41.79 589.11,43.43 589.76,45.27 590.41,47.29 591.05,49.5 591.7,51.87 592.34,54.41 592.99,57.1 593.64,59.94 594.28,62.92 594.93,66.01 595.58,69.22 596.22,72.53 596.87,75.93 597.51,79.4 598.16,82.94 598.81,86.53 599.45,90.17 600.1,93.83 600.75,97.51 601.39,101.2 602.04,104.88 602.69,108.55 603.33,112.18 603.98,115.79 604.62,119.34 605.27,122.85 605.92,126.29 606.56,129.66 607.21,132.95 607.86,136.16 608.5,139.28 609.15,142.3 609.79,145.23 610.44,148.05 611.09,150.77 611.73,153.38 612.38,155.89 613.02,158.28 613.67,160.56 614.32,162.73 614.96,164.79 615.61,166.75 616.26,168.59 616.9,170.33 617.55,171.97 618.19,173.52 618.84,174.96 619.49,176.32 620.13,177.59 620.78,178.77 621.43,179.88 622.07,180.91 622.72,181.87 623.36,182.77 624.01,183.61 624.66,184.4 625.3,185.13 625.95,185.82 626.6,186.47 627.24,187.09 627.89,187.68 628.54,188.24 629.18,188.77 629.83,189.29 630.47,189.8 631.12,190.29 631.77,190.78 632.41,191.27 633.06,191.75 633.71,192.24 634.35,192.73 635,193.22 635.64,193.72 636.29,194.23 636.94,194.76 637.58,195.29 638.23,195.83 638.88,196.39 639.52,196.96 640.17,197.55 640.81,198.14 641.46,198.75 642.11,199.38 642.75,200.01 643.4,200.66 644.04,201.32 644.69,201.99 645.34,202.67 645.98,203.35 646.63,204.05 647.28,204.75 647.92,205.45 648.57,206.16 649.21,206.88 649.86,207.59 650.51,208.31 651.15,209.03 651.8,209.74 652.45,210.45 653.09,211.16 653.74,211.87 654.39,212.56 655.03,213.26 655.68,213.94 656.32,214.62 656.97,215.28 657.62,215.94 658.26,216.58 658.91,217.21 659.56,217.83 660.2,218.44 660.85,219.04 661.49,219.62 662.14,220.18 662.79,220.73 663.43,221.27 664.08,221.79 664.73,222.29 665.37,222.78 666.02,223.25 666.66,223.71 667.31,224.15 667.96,224.57 668.6,224.98 669.25,225.37 669.89,225.75 670.54,226.11 671.19,226.46 671.83,226.79 672.48,227.11 673.13,227.41 673.77,227.7 674.42,227.97 675.06,228.23 675.71,228.48 676.36,228.72 677,228.94 677.65,229.15 678.3,229.35 678.94,229.54 679.59,229.72 680.24,229.89 680.88,230.05 681.53,230.2 682.17,230.34 682.82,230.47 683.47,230.6 684.11,230.72 684.76,230.82 685.41,230.93 686.05,231.02 686.7,231.11 687.34,231.2 687.99,231.28 688.64,231.35 689.28,231.42 689.93,231.48 690.58,231.54 691.22,231.6 691.87,231.65 692.51,231.7 693.16,231.74 693.81,231.78 694.45,231.82 695.1,231.86 695.74,231.89 696.39,231.92 697.04,231.95 697.68,231.98 698.33,232 698.98,232.02 699.62,232.04 700.27,232.06 700.91,232.08 701.56,232.1 702.21,232.12 702.85,232.13 703.5,232.15" fill="none" stroke="#d51a1a" stroke-width="2"/>
<polyline points="445,232.59 445.65,232.58 446.29,232.58 446.94,232.58 447.59,232.58 448.23,232.58 448.88,232.57 449.52,232.57 450.17,232.57 450.82,232.56 451.46,232.56 452.11,232.55 452.76,232.55 453.4,232.54 454.05,232.53 454.69,232.53 455.34,232.52 455.99,232.51 456.63,232.5 457.28,232.49 457.93,232.48 458.57,232.47 459.22,232.45 459.86,232.44 460.51,232.42 461.16,232.4 461.8,232.38 462.45,232.36 463.09,232.34 463.74,232.32 464.39,232.29 465.03,232.26 465.68,232.23 466.33,232.2 466.97,232.17 467.62,232.13 468.26,232.09 468.91,232.05 469.56,232.01 470.2,231.96 470.85,231.91 471.5,231.85 472.14,231.8 472.79,231.74 473.44,231.67 474.08,231.61 474.73,231.54 475.37,231.46 476.02,231.39 476.67,231.31 477.31,231.22 477.96,231.13 478.61,231.04 479.25,230.94 479.9,230.84 480.54,230.74 481.19,230.63 481.84,230.51 482.48,230.4 483.13,230.28 483.77,230.16 484.42,230.03 485.07,229.9 485.71,229.76 486.36,229.63 487.01,229.49 487.65,229.35 488.3,229.2 488.94,229.05 489.59,228.91 490.24,228.76 490.88,228.6 491.53,228.45 492.18,228.3 492.82,228.14 493.47,227.99 494.11,227.83 494.76,227.68 495.41,227.53 496.05,227.38 496.7,227.23 497.35,227.08 497.99,226.94 498.64,226.8 499.29,226.66 499.93,226.53 500.58,226.4 501.22,226.28 501.87,226.16 502.52,226.04 503.16,225.94 503.81,225.84 504.46,225.74 505.1,225.66 505.75,225.58 506.39,225.5 507.04,225.44 507.69,225.38 508.33,225.33 508.98,225.29 509.62,225.26 510.27,225.24 510.92,225.22 511.56,225.22 512.21,225.22 512.86,225.23 513.5,225.25 514.15,225.28 514.79,225.32 515.44,225.36 516.09,225.42 516.73,225.48 517.38,225.55 518.03,225.63 518.67,225.71 519.32,225.81 519.96,225.9 520.61,226.01 521.26,226.12 521.9,226.24 522.55,226.36 523.2,226.49 523.84,226.62 524.49,226.75 525.14,226.89 525.78,227.04 526.43,227.18 527.07,227.33 527.72,227.48 528.37,227.63 529.01,227.79 529.66,227.94 530.31,228.09 530.95,228.25 531.6,228.4 532.24,228.55 532.89,228.71 533.54,228.86 534.18,229.01 534.83,229.15 535.48,229.3 536.12,229.44 536.77,229.58 537.41,229.72 538.06,229.86 538.71,229.99 539.35,230.12 540,230.24 540.64,230.36 541.29,230.48 541.94,230.59 542.58,230.7 543.23,230.81 543.88,230.91 544.52,231.01 545.17,231.1 545.81,231.19 546.46,231.28 547.11,231.36 547.75,231.44 548.4,231.51 549.05,231.59 549.69,231.65 550.34,231.72 550.99,231.78 551.63,231.84 552.28,231.89 552.92,231.94 553.57,231.99 554.22,232.04 554.86,232.08 555.51,232.12 556.16,232.16 556.8,232.19 557.45,232.22 558.09,232.25 558.74,232.28 559.39,232.31 560.03,232.33 560.68,232.36 561.33,232.38 561.97,232.4 562.62,232.42 563.26,232.43 563.91,232.45 564.56,232.46 565.2,232.47 565.85,232.49 566.49,232.5 567.14,232.51 567.79,232.52 568.43,232.52 569.08,232.53 569.73,232.54 570.37,232.54 571.02,232.55 571.66,232.56 572.31,232.56 572.96,232.56 573.6,232.57 574.25,232.57 574.9,232.57 575.54,232.58 576.19,232.58 576.84,232.58 577.48,232.58 578.13,232.59 578.77,232.59 579.42,232.59 580.07,232.59 580.71,232.59 581.36,232.59 582.01,232.59 582.65,232.59 583.3,232.59 583.94,232.6 584.59,232.6 585.24,232.6 585.88,232.6 586.53,232.6 587.17,232.6 587.82,232.6 588.47,232.6 589.11,232.6 589.76,232.6 590.41,232.6 591.05,232.6 591.7,232.6 592.34,232.6 592.99,232.6 593.64,232.6 594.28,232.6 594.93,232.6 595.58,232.6 596.22,232.6 596.87,232.6 597.51,232.6 598.16,232.6 598.81,232.6 599.45,232.6 600.1,232.6 600.75,232.6 601.39,232.6 602.04,232.6 602.69,232.6 603.33,232.6 603.98,232.6 604.62,232.6 605.27,232.6 605.92,232.6 606.56,232.6 607.21,232.6 607.86,232.6 608.5,232.6 609.15,232.6 609.79,232.6 610.44,232.6 611.09,232.6 611.73,232.6 612.38,232.6 613.02,232.6 613.67,232.6 614.32,232.6 614.96,232.6 615.61,232.6 616.26,232.6 616.9,232.6 617.55,232.6 618.19,232.6 618.84,232.6 619.49,232.6 620.13,232.6 620.78,232.6 621.43,232.6 622.07,232.6 622.72,232.6 623.36,232.6 624.01,232.6 624.66,232.6 625.3,232.6 625.95,232.6 626.6,232.6 627.24,232.6 627.89,232.6 628.54,232.6 629.18,232.6 629.83,232.6 630.47,232.6 631.12,232.6 631.77,232.6 632.41,232.6 633.06,232.6 633.71,232.6 634.35,232.6 635,232.6 635.64,232.6 636.29,232.6 636.94,232.6 637.58,232.6 638.23,232.6 638.88,232.6 639.52,232.6 640.17,232.6 640.81,232.6 641.46,232.6 642.11,232.6 642.75,232.6 643.4,232.6 644.04,232.6 644.69,232.6 645.34,232.6 645.98,232.6 646.63,232.6 647.28,232.6 647.92,232.6 648.57,232.6 649.21,232.6 649.86,232.6 650.51,232.6 651.15,232.6 651.8,232.6 652.45,232.6 653.09,232.6 653.74,232.6 654.39,232.6 655.03,232.6 655.68,232.6 656.32,232.6 656.97,232.6 657.62,232.6 658.26,232.6 658.91,232.6 659.56,232.6 660.2,232.6 660.85,232.6 661.49,232.6 662.14,232.6 662.79,232.6 663.43,232.6 664.08,232.6 664.73,232.6 665.37,232.6 666.02,232.6 666.66,232.6 667.31,232.6 667.96,232.6 668.6,232.6 669.25,232.6 669.89,232.6 670.54,232.6 671.19,232.6 671.83,232.6 672.48,232.6 673.13,232.6 673.77,232.6 674.42,232.6 675.06,232.6 675.71,232.6 676.36,232.6 677,232.6 677.65,232.6 678.3,232.6 678.94,232.6 679.59,232.6 680.24,232.6 680.88,232.6 681.53,232.6 682.17,232.6 682.82,232.6 683.47,232.6 684.11,232.6 684.76,232.6 685.41,232.6 686.05,232.6 686.7,232.6 687.34,232.6 687.99,232.6 688.64,232.6 689.28,232.6 689.93,232.6 690.58,232.6 691.22,232.6 691.87,232.6 692.51,232.6 693.16,232.6 693.81,232.6 694.45,232.6 695.1,232.6 695.74,232.6 696.39,232.6 697.04,232.6 697.68,232.6 698.33,232.6 698.98,232.6 699.62,232.6 700.27,232.6 700.91,232.6 701.56,232.6 702.21,232.6 702.85,232.6 703.5,232.6" fill="none" stroke="#000" stroke-width="1.8"/>
<polyline points="445,232.6 445.65,232.6 446.29,232.6 446.94,232.6 447.59,232.6 448.23,232.6 448.88,232.6 449.52,232.6 450.17,232.6 450.82,232.6 451.46,232.6 452.11,232.6 452.76,232.6 453.4,232.6 454.05,232.6 454.69,232.6 455.34,232.6 455.99,232.6 456.63,232.6 457.28,232.6 457.93,232.6 458.57,232.6 459.22,232.6 459.86,232.6 460.51,232.6 461.16,232.6 461.8,232.6 462.45,232.6 463.09,232.6 463.74,232.6 464.39,232.6 465.03,232.59 465.68,232.59 466.33,232.59 466.97,232.59 467.62,232.59 468.26,232.59 468.91,232.59 469.56,232.58 470.2,232.58 470.85,232.58 471.5,232.58 472.14,232.57 472.79,232.57 473.44,232.57 474.08,232.56 474.73,232.56 475.37,232.55 476.02,232.55 476.67,232.54 477.31,232.53 477.96,232.52 478.61,232.51 479.25,232.5 479.9,232.49 480.54,232.47 481.19,232.46 481.84,232.44 482.48,232.42 483.13,232.4 483.77,232.38 484.42,232.35 485.07,232.32 485.71,232.29 486.36,232.26 487.01,232.22 487.65,232.18 488.3,232.13 488.94,232.08 489.59,232.03 490.24,231.97 490.88,231.9 491.53,231.83 492.18,231.76 492.82,231.67 493.47,231.58 494.11,231.49 494.76,231.38 495.41,231.27 496.05,231.14 496.7,231.01 497.35,230.87 497.99,230.71 498.64,230.55 499.29,230.37 499.93,230.18 500.58,229.98 501.22,229.76 501.87,229.53 502.52,229.28 503.16,229.02 503.81,228.74 504.46,228.45 505.1,228.14 505.75,227.81 506.39,227.46 507.04,227.09 507.69,226.71 508.33,226.3 508.98,225.87 509.62,225.42 510.27,224.96 510.92,224.47 511.56,223.95 512.21,223.42 512.86,222.87 513.5,222.29 514.15,221.69 514.79,221.07 515.44,220.43 516.09,219.77 516.73,219.09 517.38,218.39 518.03,217.67 518.67,216.93 519.32,216.17 519.96,215.4 520.61,214.61 521.26,213.8 521.9,212.98 522.55,212.15 523.2,211.31 523.84,210.46 524.49,209.61 525.14,208.74 525.78,207.88 526.43,207.01 527.07,206.14 527.72,205.27 528.37,204.41 529.01,203.55 529.66,202.7 530.31,201.86 530.95,201.04 531.6,200.22 532.24,199.43 532.89,198.66 533.54,197.9 534.18,197.18 534.83,196.47 535.48,195.8 536.12,195.16 536.77,194.55 537.41,193.97 538.06,193.43 538.71,192.93 539.35,192.47 540,192.05 540.64,191.67 541.29,191.33 541.94,191.04 542.58,190.8 543.23,190.6 543.88,190.45 544.52,190.35 545.17,190.3 545.81,190.29 546.46,190.34 547.11,190.43 547.75,190.57 548.4,190.76 549.05,191 549.69,191.28 550.34,191.6 550.99,191.98 551.63,192.39 552.28,192.84 552.92,193.34 553.57,193.87 554.22,194.44 554.86,195.05 555.51,195.69 556.16,196.35 556.8,197.05 557.45,197.77 558.09,198.52 558.74,199.29 559.39,200.08 560.03,200.89 560.68,201.71 561.33,202.55 561.97,203.4 562.62,204.25 563.26,205.12 563.91,205.98 564.56,206.85 565.2,207.72 565.85,208.59 566.49,209.45 567.14,210.31 567.79,211.16 568.43,212.01 569.08,212.84 569.73,213.66 570.37,214.47 571.02,215.26 571.66,216.04 572.31,216.8 572.96,217.54 573.6,218.26 574.25,218.97 574.9,219.65 575.54,220.32 576.19,220.96 576.84,221.59 577.48,222.19 578.13,222.77 578.77,223.33 579.42,223.86 580.07,224.38 580.71,224.87 581.36,225.34 582.01,225.79 582.65,226.23 583.3,226.64 583.94,227.03 584.59,227.4 585.24,227.75 585.88,228.08 586.53,228.4 587.17,228.69 587.82,228.97 588.47,229.24 589.11,229.49 589.76,229.72 590.41,229.94 591.05,230.14 591.7,230.34 592.34,230.52 592.99,230.68 593.64,230.84 594.28,230.98 594.93,231.12 595.58,231.24 596.22,231.36 596.87,231.47 597.51,231.57 598.16,231.66 598.81,231.74 599.45,231.82 600.1,231.89 600.75,231.96 601.39,232.02 602.04,232.07 602.69,232.12 603.33,232.17 603.98,232.21 604.62,232.25 605.27,232.29 605.92,232.32 606.56,232.35 607.21,232.37 607.86,232.4 608.5,232.42 609.15,232.44 609.79,232.45 610.44,232.47 611.09,232.48 611.73,232.5 612.38,232.51 613.02,232.52 613.67,232.53 614.32,232.54 614.96,232.54 615.61,232.55 616.26,232.56 616.9,232.56 617.55,232.57 618.19,232.57 618.84,232.57 619.49,232.58 620.13,232.58 620.78,232.58 621.43,232.58 622.07,232.59 622.72,232.59 623.36,232.59 624.01,232.59 624.66,232.59 625.3,232.59 625.95,232.59 626.6,232.59 627.24,232.6 627.89,232.6 628.54,232.6 629.18,232.6 629.83,232.6 630.47,232.6 631.12,232.6 631.77,232.6 632.41,232.6 633.06,232.6 633.71,232.6 634.35,232.6 635,232.6 635.64,232.6 636.29,232.6 636.94,232.6 637.58,232.6 638.23,232.6 638.88,232.6 639.52,232.6 640.17,232.6 640.81,232.6 641.46,232.6 642.11,232.6 642.75,232.6 643.4,232.6 644.04,232.6 644.69,232.6 645.34,232.6 645.98,232.6 646.63,232.6 647.28,232.6 647.92,232.6 648.57,232.6 649.21,232.6 649.86,232.6 650.51,232.6 651.15,232.6 651.8,232.6 652.45,232.6 653.09,232.6 653.74,232.6 654.39,232.6 655.03,232.6 655.68,232.6 656.32,232.6 656.97,232.6 657.62,232.6 658.26,232.6 658.91,232.6 659.56,232.6 660.2,232.6 660.85,232.6 661.49,232.6 662.14,232.6 662.79,232.6 663.43,232.6 664.08,232.6 664.73,232.6 665.37,232.6 666.02,232.6 666.66,232.6 667.31,232.6 667.96,232.6 668.6,232.6 669.25,232.6 669.89,232.6 670.54,232.6 671.19,232.6 671.83,232.6 672.48,232.6 673.13,232.6 673.77,232.6 674.42,232.6 675.06,232.6 675.71,232.6 676.36,232.6 677,232.6 677.65,232.6 678.3,232.6 678.94,232.6 679.59,232.6 680.24,232.6 680.88,232.6 681.53,232.6 682.17,232.6 682.82,232.6 683.47,232.6 684.11,232.6 684.76,232.6 685.41,232.6 686.05,232.6 686.7,232.6 687.34,232.6 687.99,232.6 688.64,232.6 689.28,232.6 689.93,232.6 690.58,232.6 691.22,232.6 691.87,232.6 692.51,232.6 693.16,232.6 693.81,232.6 694.45,232.6 695.1,232.6 695.74,232.6 696.39,232.6 697.04,232.6 697.68,232.6 698.33,232.6 698.98,232.6 699.62,232.6 700.27,232.6 700.91,232.6 701.56,232.6 702.21,232.6 702.85,232.6 703.5,232.6" fill="none" stroke="#000" stroke-width="1.8" stroke-dasharray="4 2.2"/>
<polyline points="445,232.52 445.65,232.52 446.29,232.52 446.94,232.52 447.59,232.52 448.23,232.52 448.88,232.52 449.52,232.52 450.17,232.52 450.82,232.52 451.46,232.52 452.11,232.52 452.76,232.52 453.4,232.52 454.05,232.51 454.69,232.51 455.34,232.51 455.99,232.51 456.63,232.51 457.28,232.51 457.93,232.51 458.57,232.51 459.22,232.51 459.86,232.51 460.51,232.51 461.16,232.51 461.8,232.51 462.45,232.51 463.09,232.51 463.74,232.51 464.39,232.5 465.03,232.5 465.68,232.5 466.33,232.5 466.97,232.5 467.62,232.5 468.26,232.5 468.91,232.5 469.56,232.5 470.2,232.5 470.85,232.5 471.5,232.5 472.14,232.5 472.79,232.49 473.44,232.49 474.08,232.49 474.73,232.49 475.37,232.49 476.02,232.49 476.67,232.49 477.31,232.49 477.96,232.49 478.61,232.49 479.25,232.49 479.9,232.48 480.54,232.48 481.19,232.48 481.84,232.48 482.48,232.48 483.13,232.48 483.77,232.48 484.42,232.48 485.07,232.48 485.71,232.48 486.36,232.47 487.01,232.47 487.65,232.47 488.3,232.47 488.94,232.47 489.59,232.47 490.24,232.47 490.88,232.47 491.53,232.47 492.18,232.46 492.82,232.46 493.47,232.46 494.11,232.46 494.76,232.46 495.41,232.46 496.05,232.46 496.7,232.46 497.35,232.45 497.99,232.45 498.64,232.45 499.29,232.45 499.93,232.45 500.58,232.45 501.22,232.45 501.87,232.45 502.52,232.44 503.16,232.44 503.81,232.44 504.46,232.44 505.1,232.44 505.75,232.44 506.39,232.43 507.04,232.43 507.69,232.43 508.33,232.43 508.98,232.43 509.62,232.43 510.27,232.42 510.92,232.42 511.56,232.42 512.21,232.42 512.86,232.42 513.5,232.42 514.15,232.41 514.79,232.41 515.44,232.41 516.09,232.41 516.73,232.41 517.38,232.4 518.03,232.4 518.67,232.4 519.32,232.4 519.96,232.4 520.61,232.39 521.26,232.39 521.9,232.39 522.55,232.39 523.2,232.38 523.84,232.38 524.49,232.38 525.14,232.38 525.78,232.37 526.43,232.37 527.07,232.37 527.72,232.37 528.37,232.36 529.01,232.36 529.66,232.36 530.31,232.36 530.95,232.35 531.6,232.35 532.24,232.35 532.89,232.34 533.54,232.34 534.18,232.34 534.83,232.33 535.48,232.33 536.12,232.33 536.77,232.32 537.41,232.32 538.06,232.32 538.71,232.31 539.35,232.31 540,232.31 540.64,232.3 541.29,232.3 541.94,232.29 542.58,232.29 543.23,232.29 543.88,232.28 544.52,232.28 545.17,232.27 545.81,232.27 546.46,232.26 547.11,232.26 547.75,232.26 548.4,232.25 549.05,232.25 549.69,232.24 550.34,232.24 550.99,232.23 551.63,232.22 552.28,232.22 552.92,232.21 553.57,232.21 554.22,232.2 554.86,232.19 555.51,232.19 556.16,232.18 556.8,232.17 557.45,232.17 558.09,232.16 558.74,232.15 559.39,232.15 560.03,232.14 560.68,232.13 561.33,232.12 561.97,232.11 562.62,232.1 563.26,232.09 563.91,232.08 564.56,232.07 565.2,232.06 565.85,232.05 566.49,232.04 567.14,232.02 567.79,232.01 568.43,231.99 569.08,231.98 569.73,231.96 570.37,231.94 571.02,231.93 571.66,231.91 572.31,231.89 572.96,231.86 573.6,231.84 574.25,231.81 574.9,231.79 575.54,231.76 576.19,231.73 576.84,231.69 577.48,231.66 578.13,231.62 578.77,231.58 579.42,231.54 580.07,231.49 580.71,231.44 581.36,231.39 582.01,231.33 582.65,231.27 583.3,231.2 583.94,231.13 584.59,231.06 585.24,230.98 585.88,230.89 586.53,230.8 587.17,230.7 587.82,230.59 588.47,230.48 589.11,230.36 589.76,230.24 590.41,230.1 591.05,229.96 591.7,229.8 592.34,229.64 592.99,229.47 593.64,229.29 594.28,229.1 594.93,228.89 595.58,228.68 596.22,228.45 596.87,228.21 597.51,227.96 598.16,227.7 598.81,227.42 599.45,227.13 600.1,226.83 600.75,226.51 601.39,226.18 602.04,225.83 602.69,225.47 603.33,225.1 603.98,224.71 604.62,224.3 605.27,223.88 605.92,223.45 606.56,223 607.21,222.53 607.86,222.06 608.5,221.56 609.15,221.06 609.79,220.54 610.44,220.01 611.09,219.47 611.73,218.91 612.38,218.34 613.02,217.77 613.67,217.18 614.32,216.59 614.96,215.99 615.61,215.38 616.26,214.77 616.9,214.15 617.55,213.53 618.19,212.91 618.84,212.29 619.49,211.67 620.13,211.05 620.78,210.44 621.43,209.83 622.07,209.23 622.72,208.64 623.36,208.06 624.01,207.49 624.66,206.93 625.3,206.4 625.95,205.87 626.6,205.37 627.24,204.89 627.89,204.44 628.54,204.01 629.18,203.6 629.83,203.22 630.47,202.88 631.12,202.56 631.77,202.28 632.41,202.03 633.06,201.82 633.71,201.64 634.35,201.5 635,201.4 635.64,201.34 636.29,201.32 636.94,201.33 637.58,201.38 638.23,201.48 638.88,201.6 639.52,201.77 640.17,201.98 640.81,202.22 641.46,202.49 642.11,202.8 642.75,203.14 643.4,203.5 644.04,203.9 644.69,204.33 645.34,204.78 645.98,205.25 646.63,205.75 647.28,206.26 647.92,206.8 648.57,207.35 649.21,207.91 649.86,208.49 650.51,209.08 651.15,209.68 651.8,210.29 652.45,210.9 653.09,211.52 653.74,212.14 654.39,212.76 655.03,213.38 655.68,214 656.32,214.62 656.97,215.23 657.62,215.84 658.26,216.44 658.91,217.04 659.56,217.63 660.2,218.2 660.85,218.77 661.49,219.33 662.14,219.87 662.79,220.41 663.43,220.93 664.08,221.44 664.73,221.93 665.37,222.42 666.02,222.88 666.66,223.34 667.31,223.77 667.96,224.2 668.6,224.61 669.25,225 669.89,225.38 670.54,225.74 671.19,226.09 671.83,226.43 672.48,226.75 673.13,227.06 673.77,227.35 674.42,227.63 675.06,227.9 675.71,228.15 676.36,228.4 677,228.62 677.65,228.84 678.3,229.05 678.94,229.24 679.59,229.43 680.24,229.6 680.88,229.77 681.53,229.92 682.17,230.07 682.82,230.2 683.47,230.33 684.11,230.45 684.76,230.57 685.41,230.67 686.05,230.77 686.7,230.87 687.34,230.95 687.99,231.04 688.64,231.11 689.28,231.19 689.93,231.25 690.58,231.31 691.22,231.37 691.87,231.43 692.51,231.48 693.16,231.53 693.81,231.57 694.45,231.61 695.1,231.65 695.74,231.69 696.39,231.72 697.04,231.75 697.68,231.78 698.33,231.81 698.98,231.83 699.62,231.86 700.27,231.88 700.91,231.9 701.56,231.92 702.21,231.94 702.85,231.96 703.5,231.97" fill="none" stroke="#000" stroke-width="1.8" stroke-dasharray="7.5 4.5"/>
<polyline points="445,232.23 445.65,232.22 446.29,232.22 446.94,232.22 447.59,232.21 448.23,232.21 448.88,232.21 449.52,232.2 450.17,232.2 450.82,232.19 451.46,232.19 452.11,232.19 452.76,232.18 453.4,232.18 454.05,232.17 454.69,232.17 455.34,232.16 455.99,232.16 456.63,232.16 457.28,232.15 457.93,232.15 458.57,232.14 459.22,232.14 459.86,232.13 460.51,232.13 461.16,232.12 461.8,232.12 462.45,232.11 463.09,232.11 463.74,232.1 464.39,232.1 465.03,232.09 465.68,232.09 466.33,232.08 466.97,232.07 467.62,232.07 468.26,232.06 468.91,232.06 469.56,232.05 470.2,232.04 470.85,232.04 471.5,232.03 472.14,232.03 472.79,232.02 473.44,232.01 474.08,232 474.73,232 475.37,231.99 476.02,231.98 476.67,231.98 477.31,231.97 477.96,231.96 478.61,231.95 479.25,231.95 479.9,231.94 480.54,231.93 481.19,231.92 481.84,231.91 482.48,231.9 483.13,231.89 483.77,231.89 484.42,231.88 485.07,231.87 485.71,231.86 486.36,231.85 487.01,231.84 487.65,231.83 488.3,231.82 488.94,231.81 489.59,231.8 490.24,231.78 490.88,231.77 491.53,231.76 492.18,231.75 492.82,231.74 493.47,231.72 494.11,231.71 494.76,231.7 495.41,231.68 496.05,231.67 496.7,231.65 497.35,231.64 497.99,231.62 498.64,231.61 499.29,231.59 499.93,231.57 500.58,231.55 501.22,231.53 501.87,231.51 502.52,231.49 503.16,231.47 503.81,231.45 504.46,231.42 505.1,231.4 505.75,231.37 506.39,231.34 507.04,231.31 507.69,231.28 508.33,231.24 508.98,231.2 509.62,231.16 510.27,231.12 510.92,231.07 511.56,231.02 512.21,230.97 512.86,230.91 513.5,230.85 514.15,230.78 514.79,230.71 515.44,230.63 516.09,230.54 516.73,230.45 517.38,230.35 518.03,230.24 518.67,230.11 519.32,229.98 519.96,229.84 520.61,229.69 521.26,229.52 521.9,229.34 522.55,229.14 523.2,228.93 523.84,228.69 524.49,228.44 525.14,228.17 525.78,227.87 526.43,227.55 527.07,227.2 527.72,226.83 528.37,226.43 529.01,225.99 529.66,225.52 530.31,225.01 530.95,224.47 531.6,223.89 532.24,223.26 532.89,222.58 533.54,221.86 534.18,221.09 534.83,220.27 535.48,219.39 536.12,218.45 536.77,217.45 537.41,216.39 538.06,215.26 538.71,214.06 539.35,212.79 540,211.44 540.64,210.02 541.29,208.52 541.94,206.94 542.58,205.28 543.23,203.53 543.88,201.69 544.52,199.76 545.17,197.74 545.81,195.63 546.46,193.43 547.11,191.13 547.75,188.73 548.4,186.25 549.05,183.66 549.69,180.99 550.34,178.22 550.99,175.35 551.63,172.4 552.28,169.36 552.92,166.23 553.57,163.01 554.22,159.72 554.86,156.35 555.51,152.9 556.16,149.39 556.8,145.82 557.45,142.18 558.09,138.5 558.74,134.77 559.39,131 560.03,127.19 560.68,123.37 561.33,119.53 561.97,115.68 562.62,111.83 563.26,107.99 563.91,104.17 564.56,100.38 565.2,96.63 565.85,92.92 566.49,89.28 567.14,85.71 567.79,82.21 568.43,78.81 569.08,75.51 569.73,72.31 570.37,69.25 571.02,66.31 571.66,63.51 572.31,60.87 572.96,58.38 573.6,56.07 574.25,53.94 574.9,51.99 575.54,50.24 576.19,48.68 576.84,47.34 577.48,46.21 578.13,45.29 578.77,44.6 579.42,44.13 580.07,43.89 580.71,43.87 581.36,44.08 582.01,44.51 582.65,45.17 583.3,46.05 583.94,47.15 584.59,48.47 585.24,49.99 585.88,51.71 586.53,53.63 587.17,55.74 587.82,58.02 588.47,60.48 589.11,63.1 589.76,65.87 590.41,68.79 591.05,71.84 591.7,75.01 592.34,78.3 592.99,81.69 593.64,85.17 594.28,88.73 594.93,92.37 595.58,96.06 596.22,99.81 596.87,103.59 597.51,107.41 598.16,111.24 598.81,115.09 599.45,118.94 600.1,122.78 600.75,126.61 601.39,130.42 602.04,134.2 602.69,137.93 603.33,141.63 603.98,145.27 604.62,148.85 605.27,152.37 605.92,155.83 606.56,159.21 607.21,162.52 607.86,165.74 608.5,168.89 609.15,171.94 609.79,174.91 610.44,177.79 611.09,180.57 611.73,183.26 612.38,185.86 613.02,188.36 613.67,190.77 614.32,193.08 614.96,195.3 615.61,197.43 616.26,199.46 616.9,201.4 617.55,203.25 618.19,205.02 618.84,206.69 619.49,208.29 620.13,209.8 620.78,211.23 621.43,212.59 622.07,213.87 622.72,215.08 623.36,216.22 624.01,217.29 624.66,218.3 625.3,219.25 625.95,220.14 626.6,220.97 627.24,221.75 627.89,222.48 628.54,223.16 629.18,223.79 629.83,224.38 630.47,224.93 631.12,225.45 631.77,225.92 632.41,226.36 633.06,226.77 633.71,227.15 634.35,227.5 635,227.82 635.64,228.12 636.29,228.4 636.94,228.66 637.58,228.89 638.23,229.11 638.88,229.31 639.52,229.49 640.17,229.66 640.81,229.82 641.46,229.96 642.11,230.1 642.75,230.22 643.4,230.33 644.04,230.43 644.69,230.53 645.34,230.62 645.98,230.7 646.63,230.77 647.28,230.84 647.92,230.9 648.57,230.96 649.21,231.02 649.86,231.07 650.51,231.11 651.15,231.16 651.8,231.2 652.45,231.24 653.09,231.27 653.74,231.31 654.39,231.34 655.03,231.37 655.68,231.39 656.32,231.42 656.97,231.44 657.62,231.47 658.26,231.49 658.91,231.51 659.56,231.53 660.2,231.55 660.85,231.57 661.49,231.59 662.14,231.6 662.79,231.62 663.43,231.64 664.08,231.65 664.73,231.67 665.37,231.68 666.02,231.69 666.66,231.71 667.31,231.72 667.96,231.73 668.6,231.75 669.25,231.76 669.89,231.77 670.54,231.78 671.19,231.79 671.83,231.8 672.48,231.82 673.13,231.83 673.77,231.84 674.42,231.85 675.06,231.86 675.71,231.87 676.36,231.87 677,231.88 677.65,231.89 678.3,231.9 678.94,231.91 679.59,231.92 680.24,231.93 680.88,231.94 681.53,231.94 682.17,231.95 682.82,231.96 683.47,231.97 684.11,231.97 684.76,231.98 685.41,231.99 686.05,232 686.7,232 687.34,232.01 687.99,232.02 688.64,232.02 689.28,232.03 689.93,232.04 690.58,232.04 691.22,232.05 691.87,232.06 692.51,232.06 693.16,232.07 693.81,232.07 694.45,232.08 695.1,232.08 695.74,232.09 696.39,232.1 697.04,232.1 697.68,232.11 698.33,232.11 698.98,232.12 699.62,232.12 700.27,232.13 700.91,232.13 701.56,232.14 702.21,232.14 702.85,232.15 703.5,232.15" fill="none" stroke="#000" stroke-width="1.8" stroke-dasharray="13 5 2 5"/>
<circle cx="446.7" cy="232.3" r="1.7"/>
<circle cx="450.75" cy="232.3" r="1.7"/>
<circle cx="454.81" cy="232" r="1.7"/>
<circle cx="458.87" cy="231.3" r="1.7"/>
<circle cx="462.92" cy="232.3" r="1.7"/>
<circle cx="466.97" cy="231.3" r="1.7"/>
<circle cx="471.03" cy="230.3" r="1.7"/>
<circle cx="475.08" cy="229.9" r="1.7"/>
<circle cx="479.14" cy="229.5" r="1.7"/>
<circle cx="483.19" cy="228.5" r="1.7"/>
<circle cx="487.25" cy="227.5" r="1.7"/>
<circle cx="491.31" cy="226.7" r="1.7"/>
<circle cx="495.36" cy="224.6" r="1.7"/>
<circle cx="499.41" cy="222.7" r="1.7"/>
<circle cx="503.47" cy="221.2" r="1.7"/>
<circle cx="507.52" cy="217.8" r="1.7"/>
<circle cx="511.58" cy="215.2" r="1.7"/>
<circle cx="515.63" cy="210.6" r="1.7"/>
<circle cx="519.69" cy="207.1" r="1.7"/>
<circle cx="523.75" cy="200" r="1.7"/>
<circle cx="527.8" cy="195.1" r="1.7"/>
<circle cx="531.86" cy="186.9" r="1.7"/>
<circle cx="535.91" cy="179.8" r="1.7"/>
<circle cx="539.96" cy="172.6" r="1.7"/>
<circle cx="544.02" cy="161.7" r="1.7"/>
<circle cx="548.08" cy="155.3" r="1.7"/>
<circle cx="552.13" cy="143.1" r="1.7"/>
<circle cx="556.18" cy="131.1" r="1.7"/>
<circle cx="560.24" cy="114.3" r="1.7"/>
<circle cx="564.29" cy="98" r="1.7"/>
<circle cx="568.35" cy="80.3" r="1.7"/>
<circle cx="572.4" cy="59.8" r="1.7"/>
<circle cx="576.46" cy="44.6" r="1.7"/>
<circle cx="580.51" cy="32.5" r="1.7"/>
<circle cx="584.57" cy="36.7" r="1.7"/>
<circle cx="588.62" cy="40.9" r="1.7"/>
<circle cx="592.68" cy="56" r="1.7"/>
<circle cx="596.74" cy="76.4" r="1.7"/>
<circle cx="600.79" cy="102.1" r="1.7"/>
<circle cx="604.85" cy="127.7" r="1.7"/>
<circle cx="608.9" cy="144.8" r="1.7"/>
<circle cx="612.95" cy="160.2" r="1.7"/>
<circle cx="617.01" cy="171.1" r="1.7"/>
<circle cx="621.06" cy="178.6" r="1.7"/>
<circle cx="625.12" cy="184.9" r="1.7"/>
<circle cx="629.17" cy="187.9" r="1.7"/>
<circle cx="633.23" cy="192.1" r="1.7"/>
<circle cx="637.28" cy="195.1" r="1.7"/>
<circle cx="641.34" cy="198.9" r="1.7"/>
<circle cx="645.39" cy="204.5" r="1.7"/>
<circle cx="649.45" cy="207.9" r="1.7"/>
<circle cx="653.5" cy="213.2" r="1.7"/>
<circle cx="657.56" cy="217" r="1.7"/>
<circle cx="661.62" cy="220" r="1.7"/>
<circle cx="665.67" cy="223" r="1.7"/>
<circle cx="669.72" cy="225.2" r="1.7"/>
<circle cx="673.78" cy="226.7" r="1.7"/>
<circle cx="677.84" cy="228.3" r="1.7"/>
<circle cx="681.89" cy="229.5" r="1.7"/>
<circle cx="685.94" cy="230.5" r="1.7"/>
<circle cx="690" cy="231" r="1.7"/>
<circle cx="694.05" cy="231.3" r="1.7"/>
<circle cx="698.11" cy="231.3" r="1.7"/>
<circle cx="702.16" cy="231.3" r="1.7"/>
</g>
<path d="M445,13H703.5V238" fill="none" stroke="#8c8c8c" stroke-width="1.3"/>
<path d="M445,13V238H703.5" fill="none" stroke="#222" stroke-width="1.4"/>
<line x1="445" y1="238" x2="449.5" y2="238" stroke="#000" stroke-width="1.3"/>
<text x="432.7" y="242.6" text-anchor="end" font-size="13.9" textLength="6.4" lengthAdjust="spacingAndGlyphs">0</text>
<line x1="445" y1="193" x2="449.5" y2="193" stroke="#000" stroke-width="1.3"/>
<text x="432.7" y="197.6" text-anchor="end" font-size="13.9" textLength="19.2" lengthAdjust="spacingAndGlyphs">500</text>
<line x1="445" y1="148" x2="449.5" y2="148" stroke="#000" stroke-width="1.3"/>
<text x="432.7" y="152.6" text-anchor="end" font-size="13.9" textLength="25.6" lengthAdjust="spacingAndGlyphs">1000</text>
<line x1="445" y1="103" x2="449.5" y2="103" stroke="#000" stroke-width="1.3"/>
<text x="432.7" y="107.6" text-anchor="end" font-size="13.9" textLength="25.6" lengthAdjust="spacingAndGlyphs">1500</text>
<line x1="445" y1="58" x2="449.5" y2="58" stroke="#000" stroke-width="1.3"/>
<text x="432.7" y="62.6" text-anchor="end" font-size="13.9" textLength="25.6" lengthAdjust="spacingAndGlyphs">2000</text>
<line x1="445" y1="13" x2="449.5" y2="13" stroke="#000" stroke-width="1.3"/>
<text x="432.7" y="17.6" text-anchor="end" font-size="13.9" textLength="25.6" lengthAdjust="spacingAndGlyphs">2500</text>
<line x1="445" y1="238" x2="445" y2="233.5" stroke="#000" stroke-width="1.3"/>
<text x="445" y="261" text-anchor="middle" font-size="13.9" textLength="19.2" lengthAdjust="spacingAndGlyphs">292</text>
<line x1="496.7" y1="238" x2="496.7" y2="233.5" stroke="#000" stroke-width="1.3"/>
<text x="496.7" y="261" text-anchor="middle" font-size="13.9" textLength="19.2" lengthAdjust="spacingAndGlyphs">290</text>
<line x1="548.4" y1="238" x2="548.4" y2="233.5" stroke="#000" stroke-width="1.3"/>
<text x="548.4" y="261" text-anchor="middle" font-size="13.9" textLength="19.2" lengthAdjust="spacingAndGlyphs">288</text>
<line x1="600.1" y1="238" x2="600.1" y2="233.5" stroke="#000" stroke-width="1.3"/>
<text x="600.1" y="261" text-anchor="middle" font-size="13.9" textLength="19.2" lengthAdjust="spacingAndGlyphs">286</text>
<line x1="651.8" y1="238" x2="651.8" y2="233.5" stroke="#000" stroke-width="1.3"/>
<text x="651.8" y="261" text-anchor="middle" font-size="13.9" textLength="19.2" lengthAdjust="spacingAndGlyphs">284</text>
<line x1="703.5" y1="238" x2="703.5" y2="233.5" stroke="#000" stroke-width="1.3"/>
<text x="703.5" y="261" text-anchor="middle" font-size="13.9" textLength="19.2" lengthAdjust="spacingAndGlyphs">282</text>
<text x="574.25" y="282.8" text-anchor="middle" font-size="13.7" textLength="103.5" lengthAdjust="spacingAndGlyphs">Binding energy/eV</text>
<text transform="translate(397.4,118.2) rotate(-90)" text-anchor="middle" font-size="13.7" textLength="135" lengthAdjust="spacingAndGlyphs">Counts/s (Residuals x 5)</text>
<text x="666.4" y="51.3" font-size="24.5">b</text>
<circle cx="481.2" cy="22.9" r="1.7"/>
<line x1="463.4" y1="40.56" x2="499.5" y2="40.56" stroke="#d51a1a" stroke-width="2"/>
<line x1="463.4" y1="58.22" x2="493.5" y2="58.22" stroke="#000" stroke-width="1.9" stroke-dasharray="7.6 4.2"/>
<line x1="463.4" y1="75.88" x2="499.5" y2="75.88" stroke="#000" stroke-width="1.9" stroke-dasharray="13 5 2 5"/>
<line x1="463.4" y1="93.54" x2="499.5" y2="93.54" stroke="#000" stroke-width="1.9" stroke-dasharray="4.6 2"/>
<line x1="463.4" y1="111.2" x2="499.5" y2="111.2" stroke="#000" stroke-width="1.9"/>
<text x="504.1" y="27.5" font-size="13.7" textLength="101.5" lengthAdjust="spacingAndGlyphs">Experimental data</text>
<text x="504.1" y="45.16" font-size="13.7" textLength="51.4" lengthAdjust="spacingAndGlyphs">Envelope</text>
<text x="504.1" y="62.82" font-size="13.7" textLength="58.1" lengthAdjust="spacingAndGlyphs">C-Hx, C-C</text>
<text x="504.1" y="80.48" font-size="13.7" textLength="23.1" lengthAdjust="spacingAndGlyphs">C-O</text>
<text x="504.1" y="98.14" font-size="13.7" textLength="36.1" lengthAdjust="spacingAndGlyphs">O-C-O</text>
<text x="504.1" y="115.8" font-size="13.7" textLength="38.9" lengthAdjust="spacingAndGlyphs">O-C=O</text>
<g>
<polyline points="66.5,536.69 67.15,536.68 67.79,536.67 68.44,536.66 69.09,536.65 69.73,536.64 70.38,536.63 71.02,536.61 71.67,536.6 72.32,536.58 72.96,536.57 73.61,536.55 74.26,536.53 74.9,536.51 75.55,536.49 76.19,536.46 76.84,536.44 77.49,536.41 78.13,536.38 78.78,536.35 79.42,536.32 80.07,536.28 80.72,536.24 81.36,536.2 82.01,536.16 82.66,536.11 83.3,536.06 83.95,536.01 84.59,535.95 85.24,535.89 85.89,535.83 86.53,535.76 87.18,535.69 87.83,535.61 88.47,535.53 89.12,535.44 89.76,535.35 90.41,535.25 91.06,535.14 91.7,535.03 92.35,534.91 93,534.79 93.64,534.66 94.29,534.52 94.94,534.37 95.58,534.22 96.23,534.06 96.87,533.89 97.52,533.71 98.17,533.52 98.81,533.32 99.46,533.11 100.11,532.9 100.75,532.67 101.4,532.43 102.04,532.18 102.69,531.92 103.34,531.65 103.98,531.36 104.63,531.07 105.28,530.76 105.92,530.44 106.57,530.11 107.21,529.76 107.86,529.4 108.51,529.03 109.15,528.65 109.8,528.25 110.44,527.84 111.09,527.42 111.74,526.98 112.38,526.53 113.03,526.06 113.68,525.59 114.32,525.1 114.97,524.59 115.61,524.08 116.26,523.55 116.91,523 117.55,522.45 118.2,521.89 118.85,521.31 119.49,520.72 120.14,520.12 120.79,519.51 121.43,518.89 122.08,518.26 122.72,517.63 123.37,516.98 124.02,516.33 124.66,515.66 125.31,515 125.96,514.32 126.6,513.64 127.25,512.96 127.89,512.27 128.54,511.58 129.19,510.89 129.83,510.19 130.48,509.5 131.12,508.8 131.77,508.1 132.42,507.41 133.06,506.71 133.71,506.01 134.36,505.32 135,504.63 135.65,503.94 136.29,503.26 136.94,502.57 137.59,501.89 138.23,501.21 138.88,500.54 139.53,499.87 140.17,499.2 140.82,498.53 141.46,497.86 142.11,497.19 142.76,496.51 143.4,495.84 144.05,495.16 144.7,494.48 145.34,493.79 145.99,493.09 146.64,492.38 147.28,491.65 147.93,490.92 148.57,490.16 149.22,489.38 149.87,488.58 150.51,487.76 151.16,486.9 151.81,486.02 152.45,485.09 153.1,484.14 153.74,483.14 154.39,482.1 155.04,481.01 155.68,479.87 156.33,478.69 156.97,477.45 157.62,476.15 158.27,474.79 158.91,473.38 159.56,471.9 160.21,470.36 160.85,468.76 161.5,467.09 162.14,465.36 162.79,463.57 163.44,461.72 164.08,459.82 164.73,457.86 165.38,455.85 166.02,453.8 166.67,451.72 167.31,449.6 167.96,447.46 168.61,445.3 169.25,443.14 169.9,440.98 170.55,438.82 171.19,436.68 171.84,434.56 172.49,432.46 173.13,430.38 173.78,428.32 174.42,426.29 175.07,424.27 175.72,422.26 176.36,420.25 177.01,418.25 177.66,416.23 178.3,414.21 178.95,412.16 179.59,410.1 180.24,408 180.89,405.88 181.53,403.73 182.18,401.55 182.82,399.33 183.47,397.09 184.12,394.83 184.76,392.54 185.41,390.24 186.06,387.93 186.7,385.61 187.35,383.3 187.99,380.99 188.64,378.7 189.29,376.43 189.93,374.2 190.58,372 191.23,369.86 191.87,367.77 192.52,365.75 193.16,363.81 193.81,361.95 194.46,360.18 195.1,358.51 195.75,356.95 196.4,355.51 197.04,354.19 197.69,353 198.34,351.94 198.98,351.03 199.63,350.27 200.27,349.66 200.92,349.2 201.57,348.91 202.21,348.78 202.86,348.82 203.51,349.02 204.15,349.39 204.8,349.93 205.44,350.64 206.09,351.51 206.74,352.55 207.38,353.75 208.03,355.12 208.68,356.64 209.32,358.31 209.97,360.13 210.61,362.1 211.26,364.2 211.91,366.43 212.55,368.79 213.2,371.27 213.84,373.86 214.49,376.55 215.14,379.34 215.78,382.21 216.43,385.17 217.08,388.2 217.72,391.29 218.37,394.44 219.01,397.64 219.66,400.87 220.31,404.14 220.95,407.43 221.6,410.73 222.25,414.04 222.89,417.36 223.54,420.66 224.19,423.95 224.83,427.22 225.48,430.47 226.12,433.68 226.77,436.85 227.42,439.98 228.06,443.05 228.71,446.08 229.36,449.05 230,451.95 230.65,454.79 231.29,457.56 231.94,460.26 232.59,462.89 233.23,465.44 233.88,467.92 234.53,470.32 235.17,472.64 235.82,474.88 236.46,477.04 237.11,479.13 237.76,481.13 238.4,483.06 239.05,484.91 239.69,486.69 240.34,488.39 240.99,490.02 241.63,491.58 242.28,493.07 242.93,494.49 243.57,495.85 244.22,497.14 244.86,498.38 245.51,499.55 246.16,500.68 246.8,501.75 247.45,502.77 248.1,503.74 248.74,504.67 249.39,505.56 250.04,506.4 250.68,507.21 251.33,507.98 251.97,508.72 252.62,509.43 253.27,510.11 253.91,510.77 254.56,511.4 255.21,512.01 255.85,512.6 256.5,513.17 257.14,513.72 257.79,514.26 258.44,514.78 259.08,515.29 259.73,515.78 260.38,516.27 261.02,516.75 261.67,517.21 262.31,517.67 262.96,518.13 263.61,518.57 264.25,519.02 264.9,519.45 265.54,519.88 266.19,520.31 266.84,520.73 267.48,521.14 268.13,521.56 268.78,521.97 269.42,522.37 270.07,522.77 270.71,523.17 271.36,523.56 272.01,523.95 272.65,524.34 273.3,524.72 273.95,525.1 274.59,525.47 275.24,525.84 275.89,526.2 276.53,526.56 277.18,526.91 277.82,527.26 278.47,527.6 279.12,527.94 279.76,528.27 280.41,528.59 281.06,528.91 281.7,529.22 282.35,529.53 282.99,529.82 283.64,530.11 284.29,530.4 284.93,530.67 285.58,530.94 286.23,531.2 286.87,531.46 287.52,531.7 288.16,531.94 288.81,532.17 289.46,532.4 290.1,532.62 290.75,532.82 291.39,533.03 292.04,533.22 292.69,533.41 293.33,533.59 293.98,533.76 294.63,533.93 295.27,534.09 295.92,534.24 296.56,534.39 297.21,534.53 297.86,534.66 298.5,534.79 299.15,534.91 299.8,535.03 300.44,535.14 301.09,535.25 301.74,535.35 302.38,535.44 303.03,535.53 303.67,535.62 304.32,535.7 304.97,535.77 305.61,535.85 306.26,535.92 306.91,535.98 307.55,536.04 308.2,536.1 308.84,536.15 309.49,536.2 310.14,536.25 310.78,536.29 311.43,536.33 312.07,536.37 312.72,536.41 313.37,536.44 314.01,536.48 314.66,536.51 315.31,536.53 315.95,536.56 316.6,536.58 317.24,536.61 317.89,536.63 318.54,536.65 319.18,536.67 319.83,536.68 320.48,536.7 321.12,536.71 321.77,536.73 322.41,536.74 323.06,536.75 323.71,536.76 324.35,536.77 325,536.78" fill="none" stroke="#d51a1a" stroke-width="2"/>
<polyline points="66.5,536.94 67.15,536.93 67.79,536.93 68.44,536.92 69.09,536.92 69.73,536.91 70.38,536.91 71.02,536.9 71.67,536.89 72.32,536.88 72.96,536.87 73.61,536.86 74.26,536.85 74.9,536.83 75.55,536.82 76.19,536.8 76.84,536.79 77.49,536.77 78.13,536.75 78.78,536.72 79.42,536.7 80.07,536.67 80.72,536.64 81.36,536.61 82.01,536.58 82.66,536.54 83.3,536.5 83.95,536.46 84.59,536.41 85.24,536.36 85.89,536.31 86.53,536.25 87.18,536.19 87.83,536.12 88.47,536.05 89.12,535.98 89.76,535.89 90.41,535.81 91.06,535.72 91.7,535.62 92.35,535.52 93,535.41 93.64,535.29 94.29,535.17 94.94,535.04 95.58,534.91 96.23,534.76 96.87,534.61 97.52,534.45 98.17,534.29 98.81,534.11 99.46,533.93 100.11,533.74 100.75,533.55 101.4,533.34 102.04,533.13 102.69,532.9 103.34,532.67 103.98,532.43 104.63,532.19 105.28,531.93 105.92,531.67 106.57,531.4 107.21,531.12 107.86,530.83 108.51,530.54 109.15,530.24 109.8,529.94 110.44,529.62 111.09,529.31 111.74,528.99 112.38,528.66 113.03,528.33 113.68,527.99 114.32,527.66 114.97,527.32 115.61,526.98 116.26,526.63 116.91,526.29 117.55,525.95 118.2,525.61 118.85,525.27 119.49,524.94 120.14,524.61 120.79,524.28 121.43,523.96 122.08,523.64 122.72,523.34 123.37,523.04 124.02,522.74 124.66,522.46 125.31,522.19 125.96,521.93 126.6,521.68 127.25,521.45 127.89,521.22 128.54,521.02 129.19,520.82 129.83,520.64 130.48,520.48 131.12,520.33 131.77,520.2 132.42,520.09 133.06,520 133.71,519.92 134.36,519.86 135,519.82 135.65,519.8 136.29,519.79 136.94,519.81 137.59,519.84 138.23,519.89 138.88,519.96 139.53,520.05 140.17,520.16 140.82,520.28 141.46,520.42 142.11,520.57 142.76,520.75 143.4,520.93 144.05,521.14 144.7,521.35 145.34,521.58 145.99,521.83 146.64,522.08 147.28,522.35 147.93,522.63 148.57,522.91 149.22,523.21 149.87,523.52 150.51,523.83 151.16,524.15 151.81,524.47 152.45,524.8 153.1,525.13 153.74,525.47 154.39,525.81 155.04,526.15 155.68,526.49 156.33,526.83 156.97,527.18 157.62,527.52 158.27,527.85 158.91,528.19 159.56,528.52 160.21,528.85 160.85,529.17 161.5,529.49 162.14,529.81 162.79,530.12 163.44,530.42 164.08,530.71 164.73,531 165.38,531.28 166.02,531.56 166.67,531.82 167.31,532.08 167.96,532.33 168.61,532.57 169.25,532.81 169.9,533.03 170.55,533.25 171.19,533.46 171.84,533.66 172.49,533.86 173.13,534.04 173.78,534.22 174.42,534.39 175.07,534.55 175.72,534.7 176.36,534.85 177.01,534.99 177.66,535.12 178.3,535.24 178.95,535.36 179.59,535.47 180.24,535.58 180.89,535.68 181.53,535.77 182.18,535.86 182.82,535.94 183.47,536.02 184.12,536.09 184.76,536.16 185.41,536.22 186.06,536.28 186.7,536.34 187.35,536.39 187.99,536.44 188.64,536.48 189.29,536.52 189.93,536.56 190.58,536.6 191.23,536.63 191.87,536.66 192.52,536.69 193.16,536.71 193.81,536.74 194.46,536.76 195.1,536.78 195.75,536.8 196.4,536.81 197.04,536.83 197.69,536.84 198.34,536.85 198.98,536.87 199.63,536.88 200.27,536.89 200.92,536.9 201.57,536.9 202.21,536.91 202.86,536.92 203.51,536.92 204.15,536.93 204.8,536.93 205.44,536.94 206.09,536.94 206.74,536.94 207.38,536.95 208.03,536.95 208.68,536.95 209.32,536.95 209.97,536.96 210.61,536.96 211.26,536.96 211.91,536.96 212.55,536.96 213.2,536.96 213.84,536.96 214.49,536.96 215.14,536.97 215.78,536.97 216.43,536.97 217.08,536.97 217.72,536.97 218.37,536.97 219.01,536.97 219.66,536.97 220.31,536.97 220.95,536.97 221.6,536.97 222.25,536.97 222.89,536.97 223.54,536.97 224.19,536.97 224.83,536.97 225.48,536.97 226.12,536.97 226.77,536.97 227.42,536.97 228.06,536.97 228.71,536.97 229.36,536.97 230,536.97 230.65,536.97 231.29,536.97 231.94,536.97 232.59,536.97 233.23,536.97 233.88,536.97 234.53,536.97 235.17,536.97 235.82,536.97 236.46,536.97 237.11,536.97 237.76,536.97 238.4,536.97 239.05,536.97 239.69,536.97 240.34,536.97 240.99,536.97 241.63,536.97 242.28,536.97 242.93,536.97 243.57,536.97 244.22,536.97 244.86,536.97 245.51,536.97 246.16,536.97 246.8,536.97 247.45,536.97 248.1,536.97 248.74,536.97 249.39,536.97 250.04,536.97 250.68,536.97 251.33,536.97 251.97,536.97 252.62,536.97 253.27,536.97 253.91,536.97 254.56,536.97 255.21,536.97 255.85,536.97 256.5,536.97 257.14,536.97 257.79,536.97 258.44,536.97 259.08,536.97 259.73,536.97 260.38,536.97 261.02,536.97 261.67,536.97 262.31,536.97 262.96,536.97 263.61,536.97 264.25,536.97 264.9,536.97 265.54,536.97 266.19,536.97 266.84,536.97 267.48,536.97 268.13,536.97 268.78,536.97 269.42,536.97 270.07,536.97 270.71,536.97 271.36,536.97 272.01,536.97 272.65,536.97 273.3,536.97 273.95,536.97 274.59,536.97 275.24,536.97 275.89,536.97 276.53,536.97 277.18,536.97 277.82,536.97 278.47,536.97 279.12,536.97 279.76,536.97 280.41,536.97 281.06,536.97 281.7,536.97 282.35,536.97 282.99,536.97 283.64,536.97 284.29,536.97 284.93,536.97 285.58,536.97 286.23,536.97 286.87,536.97 287.52,536.97 288.16,536.97 288.81,536.97 289.46,536.97 290.1,536.97 290.75,536.97 291.39,536.97 292.04,536.97 292.69,536.97 293.33,536.97 293.98,536.97 294.63,536.97 295.27,536.97 295.92,536.97 296.56,536.97 297.21,536.97 297.86,536.97 298.5,536.97 299.15,536.97 299.8,536.97 300.44,536.97 301.09,536.97 301.74,536.97 302.38,536.97 303.03,536.97 303.67,536.97 304.32,536.97 304.97,536.97 305.61,536.97 306.26,536.97 306.91,536.97 307.55,536.97 308.2,536.97 308.84,536.97 309.49,536.97 310.14,536.97 310.78,536.97 311.43,536.97 312.07,536.97 312.72,536.97 313.37,536.97 314.01,536.97 314.66,536.97 315.31,536.97 315.95,536.97 316.6,536.97 317.24,536.97 317.89,536.97 318.54,536.97 319.18,536.97 319.83,536.97 320.48,536.97 321.12,536.97 321.77,536.97 322.41,536.97 323.06,536.97 323.71,536.97 324.35,536.97 325,536.97" fill="none" stroke="#000" stroke-width="1.8"/>
<polyline points="66.5,536.97 67.15,536.97 67.79,536.97 68.44,536.97 69.09,536.97 69.73,536.97 70.38,536.97 71.02,536.97 71.67,536.97 72.32,536.97 72.96,536.97 73.61,536.97 74.26,536.97 74.9,536.97 75.55,536.97 76.19,536.97 76.84,536.97 77.49,536.97 78.13,536.97 78.78,536.97 79.42,536.97 80.07,536.97 80.72,536.97 81.36,536.97 82.01,536.97 82.66,536.96 83.3,536.96 83.95,536.96 84.59,536.96 85.24,536.96 85.89,536.96 86.53,536.96 87.18,536.95 87.83,536.95 88.47,536.95 89.12,536.95 89.76,536.94 90.41,536.94 91.06,536.94 91.7,536.93 92.35,536.93 93,536.92 93.64,536.91 94.29,536.91 94.94,536.9 95.58,536.89 96.23,536.88 96.87,536.87 97.52,536.86 98.17,536.85 98.81,536.83 99.46,536.82 100.11,536.8 100.75,536.78 101.4,536.76 102.04,536.74 102.69,536.71 103.34,536.68 103.98,536.65 104.63,536.62 105.28,536.58 105.92,536.54 106.57,536.5 107.21,536.45 107.86,536.4 108.51,536.35 109.15,536.29 109.8,536.22 110.44,536.15 111.09,536.07 111.74,535.99 112.38,535.9 113.03,535.81 113.68,535.7 114.32,535.59 114.97,535.47 115.61,535.35 116.26,535.21 116.91,535.06 117.55,534.91 118.2,534.74 118.85,534.56 119.49,534.37 120.14,534.17 120.79,533.96 121.43,533.73 122.08,533.49 122.72,533.24 123.37,532.97 124.02,532.68 124.66,532.38 125.31,532.07 125.96,531.74 126.6,531.39 127.25,531.02 127.89,530.64 128.54,530.24 129.19,529.82 129.83,529.38 130.48,528.92 131.12,528.45 131.77,527.96 132.42,527.44 133.06,526.91 133.71,526.36 134.36,525.79 135,525.21 135.65,524.6 136.29,523.98 136.94,523.34 137.59,522.68 138.23,522 138.88,521.31 139.53,520.61 140.17,519.89 140.82,519.16 141.46,518.41 142.11,517.65 142.76,516.89 143.4,516.11 144.05,515.33 144.7,514.54 145.34,513.74 145.99,512.94 146.64,512.14 147.28,511.34 147.93,510.54 148.57,509.74 149.22,508.94 149.87,508.16 150.51,507.38 151.16,506.61 151.81,505.85 152.45,505.1 153.1,504.38 153.74,503.66 154.39,502.97 155.04,502.3 155.68,501.65 156.33,501.03 156.97,500.43 157.62,499.86 158.27,499.32 158.91,498.81 159.56,498.34 160.21,497.9 160.85,497.49 161.5,497.12 162.14,496.79 162.79,496.49 163.44,496.24 164.08,496.02 164.73,495.85 165.38,495.72 166.02,495.63 166.67,495.58 167.31,495.57 167.96,495.61 168.61,495.69 169.25,495.81 169.9,495.97 170.55,496.17 171.19,496.42 171.84,496.7 172.49,497.02 173.13,497.38 173.78,497.78 174.42,498.21 175.07,498.68 175.72,499.18 176.36,499.71 177.01,500.27 177.66,500.86 178.3,501.48 178.95,502.12 179.59,502.78 180.24,503.47 180.89,504.17 181.53,504.9 182.18,505.64 182.82,506.39 183.47,507.16 184.12,507.94 184.76,508.72 185.41,509.51 186.06,510.31 186.7,511.11 187.35,511.91 187.99,512.72 188.64,513.52 189.29,514.31 189.93,515.11 190.58,515.89 191.23,516.67 191.87,517.44 192.52,518.2 193.16,518.95 193.81,519.69 194.46,520.41 195.1,521.12 195.75,521.81 196.4,522.49 197.04,523.15 197.69,523.8 198.34,524.43 198.98,525.04 199.63,525.63 200.27,526.21 200.92,526.76 201.57,527.3 202.21,527.81 202.86,528.31 203.51,528.79 204.15,529.25 204.8,529.7 205.44,530.12 206.09,530.53 206.74,530.92 207.38,531.29 208.03,531.64 208.68,531.98 209.32,532.3 209.97,532.6 210.61,532.89 211.26,533.16 211.91,533.42 212.55,533.67 213.2,533.9 213.84,534.11 214.49,534.32 215.14,534.51 215.78,534.69 216.43,534.86 217.08,535.02 217.72,535.17 218.37,535.31 219.01,535.44 219.66,535.56 220.31,535.67 220.95,535.78 221.6,535.88 222.25,535.97 222.89,536.05 223.54,536.13 224.19,536.2 224.83,536.27 225.48,536.33 226.12,536.39 226.77,536.44 227.42,536.49 228.06,536.53 228.71,536.57 229.36,536.61 230,536.64 230.65,536.67 231.29,536.7 231.94,536.73 232.59,536.75 233.23,536.77 233.88,536.79 234.53,536.81 235.17,536.83 235.82,536.84 236.46,536.86 237.11,536.87 237.76,536.88 238.4,536.89 239.05,536.9 239.69,536.91 240.34,536.91 240.99,536.92 241.63,536.92 242.28,536.93 242.93,536.93 243.57,536.94 244.22,536.94 244.86,536.95 245.51,536.95 246.16,536.95 246.8,536.95 247.45,536.96 248.1,536.96 248.74,536.96 249.39,536.96 250.04,536.96 250.68,536.96 251.33,536.96 251.97,536.97 252.62,536.97 253.27,536.97 253.91,536.97 254.56,536.97 255.21,536.97 255.85,536.97 256.5,536.97 257.14,536.97 257.79,536.97 258.44,536.97 259.08,536.97 259.73,536.97 260.38,536.97 261.02,536.97 261.67,536.97 262.31,536.97 262.96,536.97 263.61,536.97 264.25,536.97 264.9,536.97 265.54,536.97 266.19,536.97 266.84,536.97 267.48,536.97 268.13,536.97 268.78,536.97 269.42,536.97 270.07,536.97 270.71,536.97 271.36,536.97 272.01,536.97 272.65,536.97 273.3,536.97 273.95,536.97 274.59,536.97 275.24,536.97 275.89,536.97 276.53,536.97 277.18,536.97 277.82,536.97 278.47,536.97 279.12,536.97 279.76,536.97 280.41,536.97 281.06,536.97 281.7,536.97 282.35,536.97 282.99,536.97 283.64,536.97 284.29,536.97 284.93,536.97 285.58,536.97 286.23,536.97 286.87,536.97 287.52,536.97 288.16,536.97 288.81,536.97 289.46,536.97 290.1,536.97 290.75,536.97 291.39,536.97 292.04,536.97 292.69,536.97 293.33,536.97 293.98,536.97 294.63,536.97 295.27,536.97 295.92,536.97 296.56,536.97 297.21,536.97 297.86,536.97 298.5,536.97 299.15,536.97 299.8,536.97 300.44,536.97 301.09,536.97 301.74,536.97 302.38,536.97 303.03,536.97 303.67,536.97 304.32,536.97 304.97,536.97 305.61,536.97 306.26,536.97 306.91,536.97 307.55,536.97 308.2,536.97 308.84,536.97 309.49,536.97 310.14,536.97 310.78,536.97 311.43,536.97 312.07,536.97 312.72,536.97 313.37,536.97 314.01,536.97 314.66,536.97 315.31,536.97 315.95,536.97 316.6,536.97 317.24,536.97 317.89,536.97 318.54,536.97 319.18,536.97 319.83,536.97 320.48,536.97 321.12,536.97 321.77,536.97 322.41,536.97 323.06,536.97 323.71,536.97 324.35,536.97 325,536.97" fill="none" stroke="#000" stroke-width="1.8" stroke-dasharray="4 2.2"/>
<polyline points="66.5,536.97 67.15,536.97 67.79,536.97 68.44,536.97 69.09,536.97 69.73,536.97 70.38,536.97 71.02,536.97 71.67,536.97 72.32,536.97 72.96,536.97 73.61,536.97 74.26,536.97 74.9,536.97 75.55,536.97 76.19,536.97 76.84,536.97 77.49,536.97 78.13,536.97 78.78,536.97 79.42,536.97 80.07,536.97 80.72,536.97 81.36,536.97 82.01,536.97 82.66,536.97 83.3,536.97 83.95,536.97 84.59,536.97 85.24,536.97 85.89,536.97 86.53,536.97 87.18,536.97 87.83,536.97 88.47,536.97 89.12,536.97 89.76,536.97 90.41,536.97 91.06,536.97 91.7,536.97 92.35,536.97 93,536.97 93.64,536.97 94.29,536.97 94.94,536.97 95.58,536.97 96.23,536.97 96.87,536.97 97.52,536.97 98.17,536.97 98.81,536.97 99.46,536.97 100.11,536.97 100.75,536.97 101.4,536.97 102.04,536.97 102.69,536.97 103.34,536.97 103.98,536.97 104.63,536.97 105.28,536.97 105.92,536.97 106.57,536.97 107.21,536.97 107.86,536.97 108.51,536.97 109.15,536.97 109.8,536.97 110.44,536.97 111.09,536.97 111.74,536.97 112.38,536.97 113.03,536.97 113.68,536.97 114.32,536.97 114.97,536.97 115.61,536.97 116.26,536.97 116.91,536.97 117.55,536.97 118.2,536.97 118.85,536.97 119.49,536.97 120.14,536.97 120.79,536.97 121.43,536.97 122.08,536.97 122.72,536.97 123.37,536.97 124.02,536.97 124.66,536.97 125.31,536.97 125.96,536.97 126.6,536.97 127.25,536.97 127.89,536.97 128.54,536.97 129.19,536.97 129.83,536.97 130.48,536.97 131.12,536.97 131.77,536.97 132.42,536.97 133.06,536.97 133.71,536.97 134.36,536.97 135,536.97 135.65,536.97 136.29,536.97 136.94,536.97 137.59,536.97 138.23,536.97 138.88,536.97 139.53,536.97 140.17,536.97 140.82,536.97 141.46,536.97 142.11,536.97 142.76,536.97 143.4,536.97 144.05,536.97 144.7,536.97 145.34,536.97 145.99,536.97 146.64,536.97 147.28,536.97 147.93,536.97 148.57,536.97 149.22,536.97 149.87,536.97 150.51,536.97 151.16,536.97 151.81,536.97 152.45,536.97 153.1,536.97 153.74,536.97 154.39,536.97 155.04,536.97 155.68,536.97 156.33,536.97 156.97,536.97 157.62,536.97 158.27,536.97 158.91,536.97 159.56,536.97 160.21,536.97 160.85,536.97 161.5,536.97 162.14,536.97 162.79,536.97 163.44,536.97 164.08,536.97 164.73,536.97 165.38,536.97 166.02,536.97 166.67,536.97 167.31,536.97 167.96,536.97 168.61,536.97 169.25,536.97 169.9,536.97 170.55,536.97 171.19,536.97 171.84,536.97 172.49,536.97 173.13,536.97 173.78,536.97 174.42,536.97 175.07,536.97 175.72,536.97 176.36,536.97 177.01,536.97 177.66,536.97 178.3,536.97 178.95,536.96 179.59,536.96 180.24,536.96 180.89,536.96 181.53,536.96 182.18,536.96 182.82,536.96 183.47,536.96 184.12,536.95 184.76,536.95 185.41,536.95 186.06,536.95 186.7,536.94 187.35,536.94 187.99,536.94 188.64,536.93 189.29,536.93 189.93,536.92 190.58,536.92 191.23,536.91 191.87,536.9 192.52,536.89 193.16,536.89 193.81,536.88 194.46,536.87 195.1,536.85 195.75,536.84 196.4,536.83 197.04,536.81 197.69,536.8 198.34,536.78 198.98,536.76 199.63,536.74 200.27,536.71 200.92,536.69 201.57,536.66 202.21,536.63 202.86,536.6 203.51,536.56 204.15,536.52 204.8,536.48 205.44,536.44 206.09,536.39 206.74,536.34 207.38,536.29 208.03,536.23 208.68,536.17 209.32,536.1 209.97,536.03 210.61,535.95 211.26,535.87 211.91,535.78 212.55,535.69 213.2,535.59 213.84,535.49 214.49,535.38 215.14,535.26 215.78,535.14 216.43,535.01 217.08,534.87 217.72,534.73 218.37,534.58 219.01,534.42 219.66,534.25 220.31,534.08 220.95,533.9 221.6,533.71 222.25,533.51 222.89,533.31 223.54,533.09 224.19,532.87 224.83,532.64 225.48,532.4 226.12,532.16 226.77,531.91 227.42,531.64 228.06,531.38 228.71,531.1 229.36,530.82 230,530.53 230.65,530.23 231.29,529.93 231.94,529.62 232.59,529.3 233.23,528.99 233.88,528.66 234.53,528.33 235.17,528 235.82,527.67 236.46,527.34 237.11,527 237.76,526.66 238.4,526.32 239.05,525.98 239.69,525.65 240.34,525.31 240.99,524.98 241.63,524.66 242.28,524.33 242.93,524.01 243.57,523.7 244.22,523.4 244.86,523.1 245.51,522.81 246.16,522.53 246.8,522.26 247.45,522 248.1,521.76 248.74,521.52 249.39,521.3 250.04,521.09 250.68,520.9 251.33,520.72 251.97,520.56 252.62,520.41 253.27,520.28 253.91,520.16 254.56,520.07 255.21,519.99 255.85,519.93 256.5,519.88 257.14,519.86 257.79,519.85 258.44,519.86 259.08,519.89 259.73,519.93 260.38,520 261.02,520.08 261.67,520.18 262.31,520.29 262.96,520.43 263.61,520.58 264.25,520.74 264.9,520.92 265.54,521.12 266.19,521.33 266.84,521.55 267.48,521.79 268.13,522.03 268.78,522.29 269.42,522.57 270.07,522.85 270.71,523.14 271.36,523.43 272.01,523.74 272.65,524.05 273.3,524.37 273.95,524.69 274.59,525.02 275.24,525.35 275.89,525.69 276.53,526.03 277.18,526.36 277.82,526.7 278.47,527.04 279.12,527.38 279.76,527.71 280.41,528.04 281.06,528.37 281.7,528.7 282.35,529.02 282.99,529.34 283.64,529.66 284.29,529.96 284.93,530.27 285.58,530.56 286.23,530.85 286.87,531.13 287.52,531.41 288.16,531.68 288.81,531.94 289.46,532.19 290.1,532.43 290.75,532.67 291.39,532.9 292.04,533.12 292.69,533.33 293.33,533.54 293.98,533.73 294.63,533.92 295.27,534.1 295.92,534.27 296.56,534.44 297.21,534.6 297.86,534.75 298.5,534.89 299.15,535.03 299.8,535.15 300.44,535.28 301.09,535.39 301.74,535.5 302.38,535.6 303.03,535.7 303.67,535.79 304.32,535.88 304.97,535.96 305.61,536.04 306.26,536.11 306.91,536.17 307.55,536.24 308.2,536.29 308.84,536.35 309.49,536.4 310.14,536.44 310.78,536.49 311.43,536.53 312.07,536.57 312.72,536.6 313.37,536.63 314.01,536.66 314.66,536.69 315.31,536.72 315.95,536.74 316.6,536.76 317.24,536.78 317.89,536.8 318.54,536.81 319.18,536.83 319.83,536.84 320.48,536.85 321.12,536.87 321.77,536.88 322.41,536.89 323.06,536.89 323.71,536.9 324.35,536.91 325,536.92" fill="none" stroke="#000" stroke-width="1.8" stroke-dasharray="7.5 4.5"/>
<polyline points="66.5,536.95 67.15,536.95 67.79,536.95 68.44,536.95 69.09,536.95 69.73,536.95 70.38,536.95 71.02,536.95 71.67,536.95 72.32,536.95 72.96,536.95 73.61,536.95 74.26,536.95 74.9,536.95 75.55,536.95 76.19,536.95 76.84,536.95 77.49,536.95 78.13,536.95 78.78,536.95 79.42,536.95 80.07,536.95 80.72,536.95 81.36,536.95 82.01,536.95 82.66,536.95 83.3,536.95 83.95,536.95 84.59,536.95 85.24,536.95 85.89,536.95 86.53,536.95 87.18,536.95 87.83,536.95 88.47,536.95 89.12,536.95 89.76,536.95 90.41,536.95 91.06,536.95 91.7,536.95 92.35,536.95 93,536.95 93.64,536.95 94.29,536.95 94.94,536.95 95.58,536.94 96.23,536.94 96.87,536.94 97.52,536.94 98.17,536.94 98.81,536.94 99.46,536.94 100.11,536.94 100.75,536.94 101.4,536.94 102.04,536.94 102.69,536.94 103.34,536.94 103.98,536.94 104.63,536.94 105.28,536.94 105.92,536.94 106.57,536.94 107.21,536.94 107.86,536.93 108.51,536.93 109.15,536.93 109.8,536.93 110.44,536.93 111.09,536.93 111.74,536.93 112.38,536.93 113.03,536.92 113.68,536.92 114.32,536.92 114.97,536.92 115.61,536.91 116.26,536.91 116.91,536.91 117.55,536.9 118.2,536.9 118.85,536.89 119.49,536.89 120.14,536.88 120.79,536.87 121.43,536.87 122.08,536.86 122.72,536.85 123.37,536.84 124.02,536.83 124.66,536.81 125.31,536.8 125.96,536.78 126.6,536.76 127.25,536.74 127.89,536.72 128.54,536.69 129.19,536.66 129.83,536.63 130.48,536.6 131.12,536.56 131.77,536.52 132.42,536.47 133.06,536.42 133.71,536.37 134.36,536.3 135,536.23 135.65,536.16 136.29,536.08 136.94,535.99 137.59,535.89 138.23,535.78 138.88,535.66 139.53,535.53 140.17,535.39 140.82,535.24 141.46,535.07 142.11,534.89 142.76,534.69 143.4,534.48 144.05,534.25 144.7,534 145.34,533.72 145.99,533.43 146.64,533.11 147.28,532.77 147.93,532.4 148.57,532.01 149.22,531.58 149.87,531.13 150.51,530.64 151.16,530.11 151.81,529.55 152.45,528.95 153.1,528.31 153.74,527.63 154.39,526.9 155.04,526.13 155.68,525.31 156.33,524.44 156.97,523.51 157.62,522.53 158.27,521.5 158.91,520.4 159.56,519.25 160.21,518.03 160.85,516.75 161.5,515.41 162.14,513.99 162.79,512.51 163.44,510.96 164.08,509.33 164.73,507.63 165.38,505.86 166.02,504.01 166.67,502.09 167.31,500.08 167.96,498.01 168.61,495.85 169.25,493.62 169.9,491.31 170.55,488.92 171.19,486.46 171.84,483.93 172.49,481.32 173.13,478.64 173.78,475.89 174.42,473.07 175.07,470.19 175.72,467.24 176.36,464.24 177.01,461.18 177.66,458.07 178.3,454.91 178.95,451.71 179.59,448.47 180.24,445.2 180.89,441.9 181.53,438.57 182.18,435.23 182.82,431.88 183.47,428.52 184.12,425.17 184.76,421.82 185.41,418.49 186.06,415.19 186.7,411.91 187.35,408.67 187.99,405.47 188.64,402.33 189.29,399.25 189.93,396.23 190.58,393.29 191.23,390.43 191.87,387.65 192.52,384.98 193.16,382.41 193.81,379.95 194.46,377.6 195.1,375.38 195.75,373.29 196.4,371.33 197.04,369.52 197.69,367.85 198.34,366.33 198.98,364.96 199.63,363.75 200.27,362.71 200.92,361.83 201.57,361.12 202.21,360.58 202.86,360.21 203.51,360.02 204.15,360 204.8,360.15 205.44,360.47 206.09,360.97 206.74,361.64 207.38,362.47 208.03,363.47 208.68,364.64 209.32,365.96 209.97,367.44 210.61,369.07 211.26,370.85 211.91,372.77 212.55,374.83 213.2,377.02 213.84,379.34 214.49,381.77 215.14,384.31 215.78,386.96 216.43,389.71 217.08,392.55 217.72,395.47 218.37,398.47 219.01,401.53 219.66,404.66 220.31,407.85 220.95,411.07 221.6,414.34 222.25,417.64 222.89,420.97 223.54,424.31 224.19,427.66 224.83,431.02 225.48,434.37 226.12,437.72 226.77,441.05 227.42,444.35 228.06,447.64 228.71,450.88 229.36,454.1 230,457.27 230.65,460.39 231.29,463.46 231.94,466.48 232.59,469.44 233.23,472.34 233.88,475.17 234.53,477.94 235.17,480.64 235.82,483.26 236.46,485.82 237.11,488.3 237.76,490.71 238.4,493.03 239.05,495.29 239.69,497.46 240.34,499.56 240.99,501.58 241.63,503.52 242.28,505.39 242.93,507.19 243.57,508.9 244.22,510.55 244.86,512.12 245.51,513.62 246.16,515.05 246.8,516.42 247.45,517.71 248.1,518.95 248.74,520.12 249.39,521.22 250.04,522.27 250.68,523.27 251.33,524.21 251.97,525.09 252.62,525.92 253.27,526.71 253.91,527.45 254.56,528.14 255.21,528.79 255.85,529.4 256.5,529.97 257.14,530.51 257.79,531 258.44,531.47 259.08,531.9 259.73,532.31 260.38,532.68 261.02,533.03 261.67,533.35 262.31,533.65 262.96,533.93 263.61,534.18 264.25,534.42 264.9,534.64 265.54,534.84 266.19,535.03 266.84,535.2 267.48,535.35 268.13,535.5 268.78,535.63 269.42,535.75 270.07,535.86 270.71,535.96 271.36,536.06 272.01,536.14 272.65,536.22 273.3,536.29 273.95,536.35 274.59,536.41 275.24,536.46 275.89,536.51 276.53,536.55 277.18,536.59 277.82,536.63 278.47,536.66 279.12,536.69 279.76,536.71 280.41,536.74 281.06,536.76 281.7,536.78 282.35,536.79 282.99,536.81 283.64,536.82 284.29,536.83 284.93,536.85 285.58,536.86 286.23,536.86 286.87,536.87 287.52,536.88 288.16,536.89 288.81,536.89 289.46,536.9 290.1,536.9 290.75,536.91 291.39,536.91 292.04,536.91 292.69,536.92 293.33,536.92 293.98,536.92 294.63,536.92 295.27,536.92 295.92,536.93 296.56,536.93 297.21,536.93 297.86,536.93 298.5,536.93 299.15,536.93 299.8,536.93 300.44,536.94 301.09,536.94 301.74,536.94 302.38,536.94 303.03,536.94 303.67,536.94 304.32,536.94 304.97,536.94 305.61,536.94 306.26,536.94 306.91,536.94 307.55,536.94 308.2,536.94 308.84,536.94 309.49,536.94 310.14,536.94 310.78,536.94 311.43,536.94 312.07,536.94 312.72,536.94 313.37,536.95 314.01,536.95 314.66,536.95 315.31,536.95 315.95,536.95 316.6,536.95 317.24,536.95 317.89,536.95 318.54,536.95 319.18,536.95 319.83,536.95 320.48,536.95 321.12,536.95 321.77,536.95 322.41,536.95 323.06,536.95 323.71,536.95 324.35,536.95 325,536.95" fill="none" stroke="#000" stroke-width="1.8" stroke-dasharray="13 5 2 5"/>
<circle cx="68.9" cy="535.2" r="1.7"/>
<circle cx="72.96" cy="534.4" r="1.7"/>
<circle cx="77.01" cy="534.8" r="1.7"/>
<circle cx="81.06" cy="535.2" r="1.7"/>
<circle cx="85.12" cy="532.8" r="1.7"/>
<circle cx="89.18" cy="533.6" r="1.7"/>
<circle cx="93.23" cy="532.1" r="1.7"/>
<circle cx="97.28" cy="530.8" r="1.7"/>
<circle cx="101.34" cy="529.1" r="1.7"/>
<circle cx="105.4" cy="529.8" r="1.7"/>
<circle cx="109.45" cy="525.3" r="1.7"/>
<circle cx="113.5" cy="524.1" r="1.7"/>
<circle cx="117.56" cy="522.2" r="1.7"/>
<circle cx="121.62" cy="518.3" r="1.7"/>
<circle cx="125.67" cy="515.8" r="1.7"/>
<circle cx="129.72" cy="510.8" r="1.7"/>
<circle cx="133.78" cy="508.6" r="1.7"/>
<circle cx="137.84" cy="503.2" r="1.7"/>
<circle cx="141.89" cy="498.9" r="1.7"/>
<circle cx="145.94" cy="494.5" r="1.7"/>
<circle cx="150" cy="486.3" r="1.7"/>
<circle cx="154.06" cy="480.7" r="1.7"/>
<circle cx="158.11" cy="472.5" r="1.7"/>
<circle cx="162.16" cy="461" r="1.7"/>
<circle cx="166.22" cy="449.5" r="1.7"/>
<circle cx="170.28" cy="441.7" r="1.7"/>
<circle cx="174.33" cy="429.6" r="1.7"/>
<circle cx="178.38" cy="416.4" r="1.7"/>
<circle cx="182.44" cy="399" r="1.7"/>
<circle cx="186.5" cy="386.9" r="1.7"/>
<circle cx="190.55" cy="374" r="1.7"/>
<circle cx="194.6" cy="359.9" r="1.7"/>
<circle cx="198.66" cy="347.3" r="1.7"/>
<circle cx="202.72" cy="348" r="1.7"/>
<circle cx="206.77" cy="350.7" r="1.7"/>
<circle cx="210.82" cy="363.9" r="1.7"/>
<circle cx="214.88" cy="384.9" r="1.7"/>
<circle cx="218.94" cy="399.6" r="1.7"/>
<circle cx="222.99" cy="424.5" r="1.7"/>
<circle cx="227.04" cy="439.5" r="1.7"/>
<circle cx="231.1" cy="458.5" r="1.7"/>
<circle cx="235.16" cy="472.1" r="1.7"/>
<circle cx="239.21" cy="485.7" r="1.7"/>
<circle cx="243.26" cy="493.6" r="1.7"/>
<circle cx="247.32" cy="501.4" r="1.7"/>
<circle cx="251.38" cy="507.6" r="1.7"/>
<circle cx="255.43" cy="510.8" r="1.7"/>
<circle cx="259.49" cy="515.8" r="1.7"/>
<circle cx="263.54" cy="519.6" r="1.7"/>
<circle cx="267.6" cy="521.4" r="1.7"/>
<circle cx="271.65" cy="524.6" r="1.7"/>
<circle cx="275.7" cy="527.1" r="1.7"/>
<circle cx="279.76" cy="528" r="1.7"/>
<circle cx="283.81" cy="530.9" r="1.7"/>
<circle cx="287.87" cy="531.9" r="1.7"/>
<circle cx="291.92" cy="532.1" r="1.7"/>
<circle cx="295.98" cy="533.7" r="1.7"/>
<circle cx="300.03" cy="534.6" r="1.7"/>
<circle cx="304.09" cy="533.8" r="1.7"/>
<circle cx="308.14" cy="534.5" r="1.7"/>
<circle cx="312.2" cy="535" r="1.7"/>
<circle cx="316.25" cy="535" r="1.7"/>
<circle cx="320.31" cy="535.2" r="1.7"/>
<circle cx="324.37" cy="535.4" r="1.7"/>
</g>
<path d="M66.5,317.5H325V542" fill="none" stroke="#8c8c8c" stroke-width="1.3"/>
<path d="M66.5,317.5V542H325" fill="none" stroke="#222" stroke-width="1.4"/>
<line x1="66.5" y1="542" x2="71.0" y2="542" stroke="#000" stroke-width="1.3"/>
<text x="54.2" y="546.6" text-anchor="end" font-size="13.9" textLength="6.4" lengthAdjust="spacingAndGlyphs">0</text>
<line x1="66.5" y1="497.1" x2="71.0" y2="497.1" stroke="#000" stroke-width="1.3"/>
<text x="54.2" y="501.7" text-anchor="end" font-size="13.9" textLength="19.2" lengthAdjust="spacingAndGlyphs">500</text>
<line x1="66.5" y1="452.2" x2="71.0" y2="452.2" stroke="#000" stroke-width="1.3"/>
<text x="54.2" y="456.8" text-anchor="end" font-size="13.9" textLength="25.6" lengthAdjust="spacingAndGlyphs">1000</text>
<line x1="66.5" y1="407.3" x2="71.0" y2="407.3" stroke="#000" stroke-width="1.3"/>
<text x="54.2" y="411.9" text-anchor="end" font-size="13.9" textLength="25.6" lengthAdjust="spacingAndGlyphs">1500</text>
<line x1="66.5" y1="362.4" x2="71.0" y2="362.4" stroke="#000" stroke-width="1.3"/>
<text x="54.2" y="367" text-anchor="end" font-size="13.9" textLength="25.6" lengthAdjust="spacingAndGlyphs">2000</text>
<line x1="66.5" y1="317.5" x2="71.0" y2="317.5" stroke="#000" stroke-width="1.3"/>
<text x="54.2" y="322.1" text-anchor="end" font-size="13.9" textLength="25.6" lengthAdjust="spacingAndGlyphs">2500</text>
<line x1="66.5" y1="542" x2="66.5" y2="537.5" stroke="#000" stroke-width="1.3"/>
<text x="66.5" y="565.3" text-anchor="middle" font-size="13.9" textLength="19.2" lengthAdjust="spacingAndGlyphs">292</text>
<line x1="118.2" y1="542" x2="118.2" y2="537.5" stroke="#000" stroke-width="1.3"/>
<text x="118.2" y="565.3" text-anchor="middle" font-size="13.9" textLength="19.2" lengthAdjust="spacingAndGlyphs">290</text>
<line x1="169.9" y1="542" x2="169.9" y2="537.5" stroke="#000" stroke-width="1.3"/>
<text x="169.9" y="565.3" text-anchor="middle" font-size="13.9" textLength="19.2" lengthAdjust="spacingAndGlyphs">288</text>
<line x1="221.6" y1="542" x2="221.6" y2="537.5" stroke="#000" stroke-width="1.3"/>
<text x="221.6" y="565.3" text-anchor="middle" font-size="13.9" textLength="19.2" lengthAdjust="spacingAndGlyphs">286</text>
<line x1="273.3" y1="542" x2="273.3" y2="537.5" stroke="#000" stroke-width="1.3"/>
<text x="273.3" y="565.3" text-anchor="middle" font-size="13.9" textLength="19.2" lengthAdjust="spacingAndGlyphs">284</text>
<line x1="325" y1="542" x2="325" y2="537.5" stroke="#000" stroke-width="1.3"/>
<text x="325" y="565.3" text-anchor="middle" font-size="13.9" textLength="19.2" lengthAdjust="spacingAndGlyphs">282</text>
<text x="195.75" y="587.0" text-anchor="middle" font-size="13.7" textLength="103.5" lengthAdjust="spacingAndGlyphs">Binding energy/eV</text>
<text transform="translate(20.7,422.8) rotate(-90)" text-anchor="middle" font-size="13.7" textLength="135" lengthAdjust="spacingAndGlyphs">Counts/s (Residuals x 5)</text>
<text x="287.7" y="354.3" font-size="24.5">c</text>
<circle cx="97.1" cy="327.9" r="1.7"/>
<line x1="80" y1="345.58" x2="116" y2="345.58" stroke="#d51a1a" stroke-width="2"/>
<line x1="80" y1="363.26" x2="110" y2="363.26" stroke="#000" stroke-width="1.9" stroke-dasharray="7.6 4.2"/>
<line x1="80" y1="380.94" x2="116" y2="380.94" stroke="#000" stroke-width="1.9" stroke-dasharray="13 5 2 5"/>
<line x1="80" y1="398.62" x2="116" y2="398.62" stroke="#000" stroke-width="1.9" stroke-dasharray="4.6 2"/>
<line x1="80" y1="416.3" x2="116" y2="416.3" stroke="#000" stroke-width="1.9"/>
<text x="120.1" y="332.5" font-size="13.7" textLength="101.5" lengthAdjust="spacingAndGlyphs">Experimental data</text>
<text x="120.1" y="350.18" font-size="13.7" textLength="51.4" lengthAdjust="spacingAndGlyphs">Envelope</text>
<text x="120.1" y="367.86" font-size="13.7" textLength="58.1" lengthAdjust="spacingAndGlyphs">C-Hx, C-C</text>
<text x="120.1" y="385.54" font-size="13.7" textLength="23.1" lengthAdjust="spacingAndGlyphs">C-O</text>
<text x="120.1" y="403.22" font-size="13.7" textLength="36.1" lengthAdjust="spacingAndGlyphs">O-C-O</text>
<text x="120.1" y="420.9" font-size="13.7" textLength="38.9" lengthAdjust="spacingAndGlyphs">O-C=O</text>
<g>
<polyline points="445,536.9 445.65,536.87 446.29,536.84 446.94,536.8 447.59,536.76 448.23,536.72 448.88,536.68 449.52,536.63 450.17,536.58 450.82,536.53 451.46,536.48 452.11,536.43 452.76,536.37 453.4,536.31 454.05,536.24 454.69,536.17 455.34,536.1 455.99,536.03 456.63,535.95 457.28,535.87 457.93,535.79 458.57,535.7 459.22,535.61 459.86,535.51 460.51,535.41 461.16,535.31 461.8,535.2 462.45,535.08 463.09,534.96 463.74,534.84 464.39,534.71 465.03,534.58 465.68,534.44 466.33,534.3 466.97,534.15 467.62,533.99 468.26,533.83 468.91,533.66 469.56,533.49 470.2,533.31 470.85,533.13 471.5,532.94 472.14,532.74 472.79,532.54 473.44,532.33 474.08,532.11 474.73,531.89 475.37,531.66 476.02,531.43 476.67,531.18 477.31,530.93 477.96,530.68 478.61,530.41 479.25,530.14 479.9,529.86 480.54,529.58 481.19,529.29 481.84,528.99 482.48,528.68 483.13,528.37 483.77,528.04 484.42,527.72 485.07,527.38 485.71,527.04 486.36,526.69 487.01,526.33 487.65,525.96 488.3,525.59 488.94,525.21 489.59,524.82 490.24,524.43 490.88,524.03 491.53,523.62 492.18,523.21 492.82,522.78 493.47,522.36 494.11,521.92 494.76,521.48 495.41,521.03 496.05,520.57 496.7,520.11 497.35,519.64 497.99,519.16 498.64,518.68 499.29,518.19 499.93,517.7 500.58,517.19 501.22,516.69 501.87,516.17 502.52,515.65 503.16,515.12 503.81,514.59 504.46,514.05 505.1,513.5 505.75,512.95 506.39,512.4 507.04,511.83 507.69,511.26 508.33,510.69 508.98,510.1 509.62,509.52 510.27,508.92 510.92,508.32 511.56,507.72 512.21,507.11 512.86,506.49 513.5,505.86 514.15,505.23 514.79,504.6 515.44,503.95 516.09,503.31 516.73,502.65 517.38,501.99 518.03,501.32 518.67,500.64 519.32,499.96 519.96,499.27 520.61,498.58 521.26,497.87 521.9,497.16 522.55,496.44 523.2,495.71 523.84,494.98 524.49,494.23 525.14,493.48 525.78,492.72 526.43,491.94 527.07,491.16 527.72,490.37 528.37,489.56 529.01,488.75 529.66,487.92 530.31,487.08 530.95,486.22 531.6,485.35 532.24,484.46 532.89,483.56 533.54,482.64 534.18,481.7 534.83,480.75 535.48,479.77 536.12,478.77 536.77,477.75 537.41,476.7 538.06,475.63 538.71,474.53 539.35,473.4 540,472.24 540.64,471.06 541.29,469.83 541.94,468.58 542.58,467.29 543.23,465.96 543.88,464.59 544.52,463.18 545.17,461.73 545.81,460.24 546.46,458.7 547.11,457.12 547.75,455.49 548.4,453.81 549.05,452.09 549.69,450.32 550.34,448.49 550.99,446.62 551.63,444.7 552.28,442.72 552.92,440.7 553.57,438.64 554.22,436.52 554.86,434.36 555.51,432.15 556.16,429.91 556.8,427.62 557.45,425.3 558.09,422.94 558.74,420.55 559.39,418.14 560.03,415.7 560.68,413.25 561.33,410.78 561.97,408.31 562.62,405.83 563.26,403.36 563.91,400.9 564.56,398.46 565.2,396.04 565.85,393.66 566.49,391.31 567.14,389 567.79,386.75 568.43,384.56 569.08,382.44 569.73,380.4 570.37,378.44 571.02,376.57 571.66,374.8 572.31,373.14 572.96,371.59 573.6,370.15 574.25,368.85 574.9,367.68 575.54,366.64 576.19,365.75 576.84,365.01 577.48,364.42 578.13,363.99 578.77,363.71 579.42,363.6 580.07,363.65 580.71,363.87 581.36,364.25 582.01,364.8 582.65,365.51 583.3,366.38 583.94,367.42 584.59,368.61 585.24,369.96 585.88,371.46 586.53,373.11 587.17,374.89 587.82,376.82 588.47,378.87 589.11,381.04 589.76,383.33 590.41,385.73 591.05,388.23 591.7,390.82 592.34,393.49 592.99,396.24 593.64,399.06 594.28,401.93 594.93,404.85 595.58,407.81 596.22,410.81 596.87,413.82 597.51,416.86 598.16,419.9 598.81,422.93 599.45,425.96 600.1,428.97 600.75,431.96 601.39,434.92 602.04,437.85 602.69,440.73 603.33,443.56 603.98,446.35 604.62,449.08 605.27,451.74 605.92,454.35 606.56,456.89 607.21,459.36 607.86,461.76 608.5,464.09 609.15,466.34 609.79,468.53 610.44,470.64 611.09,472.67 611.73,474.63 612.38,476.53 613.02,478.35 613.67,480.1 614.32,481.78 614.96,483.4 615.61,484.96 616.26,486.45 616.9,487.89 617.55,489.27 618.19,490.6 618.84,491.87 619.49,493.1 620.13,494.29 620.78,495.43 621.43,496.52 622.07,497.58 622.72,498.61 623.36,499.6 624.01,500.56 624.66,501.49 625.3,502.39 625.95,503.27 626.6,504.12 627.24,504.95 627.89,505.76 628.54,506.55 629.18,507.32 629.83,508.07 630.47,508.81 631.12,509.53 631.77,510.23 632.41,510.93 633.06,511.61 633.71,512.27 634.35,512.93 635,513.57 635.64,514.21 636.29,514.83 636.94,515.44 637.58,516.05 638.23,516.64 638.88,517.22 639.52,517.79 640.17,518.36 640.81,518.91 641.46,519.46 642.11,520 642.75,520.52 643.4,521.04 644.04,521.55 644.69,522.05 645.34,522.54 645.98,523.02 646.63,523.49 647.28,523.95 647.92,524.4 648.57,524.84 649.21,525.28 649.86,525.7 650.51,526.11 651.15,526.51 651.8,526.91 652.45,527.29 653.09,527.66 653.74,528.02 654.39,528.38 655.03,528.72 655.68,529.05 656.32,529.37 656.97,529.69 657.62,529.99 658.26,530.28 658.91,530.57 659.56,530.84 660.2,531.11 660.85,531.36 661.49,531.61 662.14,531.85 662.79,532.08 663.43,532.3 664.08,532.51 664.73,532.71 665.37,532.91 666.02,533.1 666.66,533.28 667.31,533.45 667.96,533.62 668.6,533.77 669.25,533.93 669.89,534.07 670.54,534.21 671.19,534.34 671.83,534.47 672.48,534.59 673.13,534.7 673.77,534.81 674.42,534.92 675.06,535.02 675.71,535.11 676.36,535.2 677,535.29 677.65,535.37 678.3,535.45 678.94,535.52 679.59,535.59 680.24,535.66 680.88,535.72 681.53,535.78 682.17,535.84 682.82,535.89 683.47,535.95 684.11,535.99 684.76,536.04 685.41,536.09 686.05,536.13 686.7,536.17 687.34,536.21 687.99,536.24 688.64,536.28 689.28,536.31 689.93,536.34 690.58,536.37 691.22,536.4 691.87,536.43 692.51,536.45 693.16,536.48 693.81,536.5 694.45,536.52 695.1,536.55 695.74,536.57 696.39,536.59 697.04,536.61 697.68,536.63 698.33,536.64 698.98,536.66 699.62,536.68 700.27,536.69 700.91,536.71 701.56,536.72 702.21,536.74 702.85,536.75 703.5,536.76" fill="none" stroke="#d51a1a" stroke-width="2"/>
<polyline points="445,537.48 445.65,537.48 446.29,537.46 446.94,537.45 447.59,537.44 448.23,537.43 448.88,537.41 449.52,537.39 450.17,537.38 450.82,537.36 451.46,537.33 452.11,537.31 452.76,537.29 453.4,537.26 454.05,537.23 454.69,537.2 455.34,537.16 455.99,537.12 456.63,537.08 457.28,537.04 457.93,536.99 458.57,536.94 459.22,536.89 459.86,536.83 460.51,536.77 461.16,536.7 461.8,536.63 462.45,536.55 463.09,536.47 463.74,536.39 464.39,536.29 465.03,536.2 465.68,536.09 466.33,535.98 466.97,535.87 467.62,535.74 468.26,535.61 468.91,535.48 469.56,535.33 470.2,535.18 470.85,535.02 471.5,534.85 472.14,534.68 472.79,534.49 473.44,534.3 474.08,534.09 474.73,533.88 475.37,533.66 476.02,533.43 476.67,533.2 477.31,532.95 477.96,532.69 478.61,532.43 479.25,532.15 479.9,531.87 480.54,531.57 481.19,531.27 481.84,530.96 482.48,530.64 483.13,530.31 483.77,529.98 484.42,529.63 485.07,529.28 485.71,528.92 486.36,528.56 487.01,528.19 487.65,527.81 488.3,527.42 488.94,527.04 489.59,526.65 490.24,526.25 490.88,525.85 491.53,525.45 492.18,525.05 492.82,524.65 493.47,524.24 494.11,523.84 494.76,523.44 495.41,523.04 496.05,522.65 496.7,522.26 497.35,521.87 497.99,521.49 498.64,521.12 499.29,520.75 499.93,520.4 500.58,520.05 501.22,519.71 501.87,519.39 502.52,519.07 503.16,518.77 503.81,518.49 504.46,518.21 505.1,517.96 505.75,517.72 506.39,517.49 507.04,517.28 507.69,517.09 508.33,516.92 508.98,516.77 509.62,516.63 510.27,516.52 510.92,516.43 511.56,516.35 512.21,516.3 512.86,516.27 513.5,516.25 514.15,516.26 514.79,516.29 515.44,516.34 516.09,516.41 516.73,516.5 517.38,516.61 518.03,516.74 518.67,516.89 519.32,517.06 519.96,517.24 520.61,517.45 521.26,517.67 521.9,517.91 522.55,518.16 523.2,518.43 523.84,518.72 524.49,519.02 525.14,519.33 525.78,519.65 526.43,519.98 527.07,520.33 527.72,520.68 528.37,521.05 529.01,521.42 529.66,521.8 530.31,522.18 530.95,522.57 531.6,522.97 532.24,523.36 532.89,523.76 533.54,524.17 534.18,524.57 534.83,524.97 535.48,525.37 536.12,525.77 536.77,526.17 537.41,526.57 538.06,526.96 538.71,527.35 539.35,527.73 540,528.11 540.64,528.49 541.29,528.85 541.94,529.21 542.58,529.57 543.23,529.91 543.88,530.25 544.52,530.58 545.17,530.9 545.81,531.21 546.46,531.52 547.11,531.81 547.75,532.1 548.4,532.37 549.05,532.64 549.69,532.9 550.34,533.15 550.99,533.39 551.63,533.62 552.28,533.84 552.92,534.06 553.57,534.26 554.22,534.45 554.86,534.64 555.51,534.82 556.16,534.99 556.8,535.15 557.45,535.3 558.09,535.45 558.74,535.59 559.39,535.72 560.03,535.84 560.68,535.96 561.33,536.07 561.97,536.18 562.62,536.28 563.26,536.37 563.91,536.46 564.56,536.54 565.2,536.61 565.85,536.69 566.49,536.75 567.14,536.82 567.79,536.88 568.43,536.93 569.08,536.98 569.73,537.03 570.37,537.07 571.02,537.12 571.66,537.15 572.31,537.19 572.96,537.22 573.6,537.25 574.25,537.28 574.9,537.31 575.54,537.33 576.19,537.35 576.84,537.37 577.48,537.39 578.13,537.41 578.77,537.42 579.42,537.44 580.07,537.45 580.71,537.46 581.36,537.47 582.01,537.48 582.65,537.49 583.3,537.5 583.94,537.51 584.59,537.51 585.24,537.52 585.88,537.53 586.53,537.53 587.17,537.54 587.82,537.54 588.47,537.54 589.11,537.55 589.76,537.55 590.41,537.55 591.05,537.56 591.7,537.56 592.34,537.56 592.99,537.56 593.64,537.56 594.28,537.56 594.93,537.57 595.58,537.57 596.22,537.57 596.87,537.57 597.51,537.57 598.16,537.57 598.81,537.57 599.45,537.57 600.1,537.57 600.75,537.57 601.39,537.57 602.04,537.57 602.69,537.57 603.33,537.57 603.98,537.57 604.62,537.57 605.27,537.57 605.92,537.57 606.56,537.57 607.21,537.57 607.86,537.57 608.5,537.57 609.15,537.57 609.79,537.57 610.44,537.57 611.09,537.57 611.73,537.57 612.38,537.57 613.02,537.57 613.67,537.57 614.32,537.57 614.96,537.57 615.61,537.57 616.26,537.57 616.9,537.57 617.55,537.57 618.19,537.57 618.84,537.57 619.49,537.57 620.13,537.57 620.78,537.57 621.43,537.57 622.07,537.57 622.72,537.57 623.36,537.57 624.01,537.57 624.66,537.57 625.3,537.57 625.95,537.57 626.6,537.57 627.24,537.57 627.89,537.57 628.54,537.57 629.18,537.57 629.83,537.57 630.47,537.57 631.12,537.57 631.77,537.57 632.41,537.57 633.06,537.57 633.71,537.57 634.35,537.57 635,537.57 635.64,537.57 636.29,537.57 636.94,537.57 637.58,537.57 638.23,537.57 638.88,537.57 639.52,537.57 640.17,537.57 640.81,537.57 641.46,537.57 642.11,537.57 642.75,537.57 643.4,537.57 644.04,537.57 644.69,537.57 645.34,537.57 645.98,537.57 646.63,537.57 647.28,537.57 647.92,537.57 648.57,537.57 649.21,537.57 649.86,537.57 650.51,537.57 651.15,537.57 651.8,537.57 652.45,537.57 653.09,537.57 653.74,537.57 654.39,537.57 655.03,537.57 655.68,537.57 656.32,537.57 656.97,537.57 657.62,537.57 658.26,537.57 658.91,537.57 659.56,537.57 660.2,537.57 660.85,537.57 661.49,537.57 662.14,537.57 662.79,537.57 663.43,537.57 664.08,537.57 664.73,537.57 665.37,537.57 666.02,537.57 666.66,537.57 667.31,537.57 667.96,537.57 668.6,537.57 669.25,537.57 669.89,537.57 670.54,537.57 671.19,537.57 671.83,537.57 672.48,537.57 673.13,537.57 673.77,537.57 674.42,537.57 675.06,537.57 675.71,537.57 676.36,537.57 677,537.57 677.65,537.57 678.3,537.57 678.94,537.57 679.59,537.57 680.24,537.57 680.88,537.57 681.53,537.57 682.17,537.57 682.82,537.57 683.47,537.57 684.11,537.57 684.76,537.57 685.41,537.57 686.05,537.57 686.7,537.57 687.34,537.58 687.99,537.58 688.64,537.58 689.28,537.58 689.93,537.58 690.58,537.58 691.22,537.58 691.87,537.58 692.51,537.58 693.16,537.58 693.81,537.58 694.45,537.58 695.1,537.58 695.74,537.58 696.39,537.58 697.04,537.58 697.68,537.58 698.33,537.58 698.98,537.58 699.62,537.58 700.27,537.58 700.91,537.58 701.56,537.58 702.21,537.58 702.85,537.58 703.5,537.58" fill="none" stroke="#000" stroke-width="1.8"/>
<polyline points="445,537.25 445.65,537.25 446.29,537.24 446.94,537.24 447.59,537.24 448.23,537.23 448.88,537.23 449.52,537.22 450.17,537.22 450.82,537.21 451.46,537.21 452.11,537.2 452.76,537.2 453.4,537.19 454.05,537.19 454.69,537.18 455.34,537.18 455.99,537.17 456.63,537.17 457.28,537.16 457.93,537.16 458.57,537.15 459.22,537.14 459.86,537.14 460.51,537.13 461.16,537.13 461.8,537.12 462.45,537.11 463.09,537.1 463.74,537.1 464.39,537.09 465.03,537.08 465.68,537.07 466.33,537.07 466.97,537.06 467.62,537.05 468.26,537.04 468.91,537.03 469.56,537.02 470.2,537.01 470.85,537 471.5,536.99 472.14,536.97 472.79,536.96 473.44,536.95 474.08,536.94 474.73,536.92 475.37,536.91 476.02,536.89 476.67,536.88 477.31,536.86 477.96,536.84 478.61,536.82 479.25,536.8 479.9,536.78 480.54,536.75 481.19,536.73 481.84,536.7 482.48,536.68 483.13,536.65 483.77,536.61 484.42,536.58 485.07,536.54 485.71,536.51 486.36,536.46 487.01,536.42 487.65,536.37 488.3,536.32 488.94,536.27 489.59,536.21 490.24,536.15 490.88,536.08 491.53,536.01 492.18,535.94 492.82,535.86 493.47,535.77 494.11,535.68 494.76,535.59 495.41,535.48 496.05,535.37 496.7,535.26 497.35,535.13 497.99,535 498.64,534.86 499.29,534.71 499.93,534.55 500.58,534.39 501.22,534.21 501.87,534.02 502.52,533.82 503.16,533.62 503.81,533.4 504.46,533.16 505.1,532.92 505.75,532.66 506.39,532.4 507.04,532.11 507.69,531.82 508.33,531.51 508.98,531.18 509.62,530.85 510.27,530.49 510.92,530.13 511.56,529.75 512.21,529.35 512.86,528.94 513.5,528.51 514.15,528.07 514.79,527.61 515.44,527.14 516.09,526.66 516.73,526.16 517.38,525.64 518.03,525.11 518.67,524.57 519.32,524.02 519.96,523.45 520.61,522.87 521.26,522.29 521.9,521.69 522.55,521.08 523.2,520.46 523.84,519.83 524.49,519.2 525.14,518.56 525.78,517.92 526.43,517.27 527.07,516.62 527.72,515.98 528.37,515.33 529.01,514.68 529.66,514.04 530.31,513.4 530.95,512.77 531.6,512.14 532.24,511.53 532.89,510.93 533.54,510.34 534.18,509.77 534.83,509.21 535.48,508.67 536.12,508.16 536.77,507.66 537.41,507.19 538.06,506.75 538.71,506.33 539.35,505.94 540,505.59 540.64,505.26 541.29,504.97 541.94,504.72 542.58,504.5 543.23,504.32 543.88,504.17 544.52,504.07 545.17,504 545.81,503.98 546.46,503.99 547.11,504.05 547.75,504.14 548.4,504.27 549.05,504.44 549.69,504.65 550.34,504.89 550.99,505.17 551.63,505.49 552.28,505.83 552.92,506.21 553.57,506.62 554.22,507.06 554.86,507.52 555.51,508.01 556.16,508.52 556.8,509.05 557.45,509.6 558.09,510.17 558.74,510.75 559.39,511.35 560.03,511.96 560.68,512.58 561.33,513.21 561.97,513.85 562.62,514.49 563.26,515.14 563.91,515.78 564.56,516.43 565.2,517.08 565.85,517.73 566.49,518.37 567.14,519.01 567.79,519.65 568.43,520.27 569.08,520.89 569.73,521.51 570.37,522.11 571.02,522.7 571.66,523.28 572.31,523.85 572.96,524.41 573.6,524.96 574.25,525.49 574.9,526.01 575.54,526.51 576.19,527 576.84,527.48 577.48,527.94 578.13,528.38 578.77,528.81 579.42,529.23 580.07,529.63 580.71,530.02 581.36,530.39 582.01,530.74 582.65,531.09 583.3,531.41 583.94,531.73 584.59,532.03 585.24,532.31 585.88,532.59 586.53,532.85 587.17,533.09 587.82,533.33 588.47,533.55 589.11,533.76 589.76,533.97 590.41,534.16 591.05,534.34 591.7,534.51 592.34,534.67 592.99,534.82 593.64,534.96 594.28,535.09 594.93,535.22 595.58,535.34 596.22,535.45 596.87,535.56 597.51,535.66 598.16,535.75 598.81,535.84 599.45,535.92 600.1,535.99 600.75,536.06 601.39,536.13 602.04,536.19 602.69,536.25 603.33,536.31 603.98,536.36 604.62,536.41 605.27,536.45 605.92,536.49 606.56,536.53 607.21,536.57 607.86,536.6 608.5,536.64 609.15,536.67 609.79,536.7 610.44,536.72 611.09,536.75 611.73,536.77 612.38,536.79 613.02,536.81 613.67,536.83 614.32,536.85 614.96,536.87 615.61,536.89 616.26,536.9 616.9,536.92 617.55,536.93 618.19,536.95 618.84,536.96 619.49,536.97 620.13,536.98 620.78,536.99 621.43,537.01 622.07,537.02 622.72,537.03 623.36,537.04 624.01,537.05 624.66,537.05 625.3,537.06 625.95,537.07 626.6,537.08 627.24,537.09 627.89,537.09 628.54,537.1 629.18,537.11 629.83,537.12 630.47,537.12 631.12,537.13 631.77,537.14 632.41,537.14 633.06,537.15 633.71,537.15 634.35,537.16 635,537.17 635.64,537.17 636.29,537.18 636.94,537.18 637.58,537.19 638.23,537.19 638.88,537.2 639.52,537.2 640.17,537.21 640.81,537.21 641.46,537.22 642.11,537.22 642.75,537.23 643.4,537.23 644.04,537.24 644.69,537.24 645.34,537.24 645.98,537.25 646.63,537.25 647.28,537.26 647.92,537.26 648.57,537.26 649.21,537.27 649.86,537.27 650.51,537.27 651.15,537.28 651.8,537.28 652.45,537.28 653.09,537.29 653.74,537.29 654.39,537.29 655.03,537.3 655.68,537.3 656.32,537.3 656.97,537.31 657.62,537.31 658.26,537.31 658.91,537.32 659.56,537.32 660.2,537.32 660.85,537.32 661.49,537.33 662.14,537.33 662.79,537.33 663.43,537.33 664.08,537.34 664.73,537.34 665.37,537.34 666.02,537.34 666.66,537.35 667.31,537.35 667.96,537.35 668.6,537.35 669.25,537.36 669.89,537.36 670.54,537.36 671.19,537.36 671.83,537.36 672.48,537.37 673.13,537.37 673.77,537.37 674.42,537.37 675.06,537.37 675.71,537.38 676.36,537.38 677,537.38 677.65,537.38 678.3,537.38 678.94,537.39 679.59,537.39 680.24,537.39 680.88,537.39 681.53,537.39 682.17,537.39 682.82,537.4 683.47,537.4 684.11,537.4 684.76,537.4 685.41,537.4 686.05,537.4 686.7,537.41 687.34,537.41 687.99,537.41 688.64,537.41 689.28,537.41 689.93,537.41 690.58,537.41 691.22,537.42 691.87,537.42 692.51,537.42 693.16,537.42 693.81,537.42 694.45,537.42 695.1,537.42 695.74,537.42 696.39,537.43 697.04,537.43 697.68,537.43 698.33,537.43 698.98,537.43 699.62,537.43 700.27,537.43 700.91,537.43 701.56,537.44 702.21,537.44 702.85,537.44 703.5,537.44" fill="none" stroke="#000" stroke-width="1.8" stroke-dasharray="4 2.2"/>
<polyline points="445,537.55 445.65,537.55 446.29,537.55 446.94,537.55 447.59,537.55 448.23,537.55 448.88,537.55 449.52,537.55 450.17,537.55 450.82,537.55 451.46,537.55 452.11,537.55 452.76,537.55 453.4,537.55 454.05,537.55 454.69,537.55 455.34,537.55 455.99,537.55 456.63,537.55 457.28,537.55 457.93,537.55 458.57,537.55 459.22,537.55 459.86,537.55 460.51,537.55 461.16,537.55 461.8,537.55 462.45,537.54 463.09,537.54 463.74,537.54 464.39,537.54 465.03,537.54 465.68,537.54 466.33,537.54 466.97,537.54 467.62,537.54 468.26,537.54 468.91,537.54 469.56,537.54 470.2,537.54 470.85,537.54 471.5,537.54 472.14,537.54 472.79,537.54 473.44,537.54 474.08,537.54 474.73,537.54 475.37,537.54 476.02,537.54 476.67,537.54 477.31,537.54 477.96,537.54 478.61,537.54 479.25,537.54 479.9,537.54 480.54,537.54 481.19,537.54 481.84,537.54 482.48,537.54 483.13,537.54 483.77,537.54 484.42,537.54 485.07,537.54 485.71,537.53 486.36,537.53 487.01,537.53 487.65,537.53 488.3,537.53 488.94,537.53 489.59,537.53 490.24,537.53 490.88,537.53 491.53,537.53 492.18,537.53 492.82,537.53 493.47,537.53 494.11,537.53 494.76,537.53 495.41,537.53 496.05,537.53 496.7,537.53 497.35,537.53 497.99,537.53 498.64,537.53 499.29,537.53 499.93,537.53 500.58,537.53 501.22,537.52 501.87,537.52 502.52,537.52 503.16,537.52 503.81,537.52 504.46,537.52 505.1,537.52 505.75,537.52 506.39,537.52 507.04,537.52 507.69,537.52 508.33,537.52 508.98,537.52 509.62,537.52 510.27,537.52 510.92,537.52 511.56,537.52 512.21,537.52 512.86,537.52 513.5,537.51 514.15,537.51 514.79,537.51 515.44,537.51 516.09,537.51 516.73,537.51 517.38,537.51 518.03,537.51 518.67,537.51 519.32,537.51 519.96,537.51 520.61,537.51 521.26,537.51 521.9,537.51 522.55,537.5 523.2,537.5 523.84,537.5 524.49,537.5 525.14,537.5 525.78,537.5 526.43,537.5 527.07,537.5 527.72,537.5 528.37,537.5 529.01,537.5 529.66,537.49 530.31,537.49 530.95,537.49 531.6,537.49 532.24,537.49 532.89,537.49 533.54,537.49 534.18,537.49 534.83,537.49 535.48,537.49 536.12,537.48 536.77,537.48 537.41,537.48 538.06,537.48 538.71,537.48 539.35,537.48 540,537.48 540.64,537.47 541.29,537.47 541.94,537.47 542.58,537.47 543.23,537.47 543.88,537.47 544.52,537.47 545.17,537.46 545.81,537.46 546.46,537.46 547.11,537.46 547.75,537.46 548.4,537.45 549.05,537.45 549.69,537.45 550.34,537.45 550.99,537.44 551.63,537.44 552.28,537.44 552.92,537.44 553.57,537.43 554.22,537.43 554.86,537.42 555.51,537.42 556.16,537.42 556.8,537.41 557.45,537.41 558.09,537.4 558.74,537.4 559.39,537.39 560.03,537.38 560.68,537.38 561.33,537.37 561.97,537.36 562.62,537.35 563.26,537.35 563.91,537.34 564.56,537.33 565.2,537.31 565.85,537.3 566.49,537.29 567.14,537.27 567.79,537.26 568.43,537.24 569.08,537.23 569.73,537.21 570.37,537.19 571.02,537.16 571.66,537.14 572.31,537.11 572.96,537.09 573.6,537.06 574.25,537.03 574.9,536.99 575.54,536.96 576.19,536.92 576.84,536.87 577.48,536.83 578.13,536.78 578.77,536.73 579.42,536.68 580.07,536.62 580.71,536.56 581.36,536.49 582.01,536.42 582.65,536.35 583.3,536.27 583.94,536.18 584.59,536.09 585.24,536 585.88,535.9 586.53,535.8 587.17,535.68 587.82,535.57 588.47,535.44 589.11,535.32 589.76,535.18 590.41,535.04 591.05,534.89 591.7,534.73 592.34,534.57 592.99,534.4 593.64,534.22 594.28,534.03 594.93,533.84 595.58,533.64 596.22,533.43 596.87,533.22 597.51,532.99 598.16,532.76 598.81,532.52 599.45,532.27 600.1,532.02 600.75,531.76 601.39,531.49 602.04,531.21 602.69,530.93 603.33,530.64 603.98,530.35 604.62,530.04 605.27,529.74 605.92,529.42 606.56,529.11 607.21,528.79 607.86,528.46 608.5,528.13 609.15,527.8 609.79,527.46 610.44,527.12 611.09,526.79 611.73,526.45 612.38,526.11 613.02,525.77 613.67,525.43 614.32,525.09 614.96,524.76 615.61,524.43 616.26,524.11 616.9,523.78 617.55,523.47 618.19,523.16 618.84,522.86 619.49,522.57 620.13,522.28 620.78,522.01 621.43,521.75 622.07,521.49 622.72,521.25 623.36,521.03 624.01,520.81 624.66,520.61 625.3,520.43 625.95,520.26 626.6,520.1 627.24,519.96 627.89,519.84 628.54,519.74 629.18,519.65 629.83,519.59 630.47,519.54 631.12,519.5 631.77,519.49 632.41,519.5 633.06,519.52 633.71,519.56 634.35,519.63 635,519.71 635.64,519.8 636.29,519.92 636.94,520.05 637.58,520.2 638.23,520.36 638.88,520.54 639.52,520.73 640.17,520.94 640.81,521.17 641.46,521.4 642.11,521.65 642.75,521.91 643.4,522.18 644.04,522.46 644.69,522.75 645.34,523.05 645.98,523.35 646.63,523.67 647.28,523.98 647.92,524.31 648.57,524.64 649.21,524.97 649.86,525.3 650.51,525.64 651.15,525.98 651.8,526.32 652.45,526.66 653.09,527 653.74,527.33 654.39,527.67 655.03,528 655.68,528.34 656.32,528.66 656.97,528.99 657.62,529.31 658.26,529.62 658.91,529.93 659.56,530.23 660.2,530.53 660.85,530.82 661.49,531.11 662.14,531.39 662.79,531.66 663.43,531.92 664.08,532.18 664.73,532.43 665.37,532.67 666.02,532.91 666.66,533.13 667.31,533.35 667.96,533.56 668.6,533.77 669.25,533.96 669.89,534.15 670.54,534.33 671.19,534.5 671.83,534.67 672.48,534.83 673.13,534.98 673.77,535.13 674.42,535.27 675.06,535.4 675.71,535.52 676.36,535.64 677,535.75 677.65,535.86 678.3,535.96 678.94,536.06 679.59,536.15 680.24,536.24 680.88,536.32 681.53,536.39 682.17,536.46 682.82,536.53 683.47,536.6 684.11,536.66 684.76,536.71 685.41,536.76 686.05,536.81 686.7,536.86 687.34,536.9 687.99,536.94 688.64,536.98 689.28,537.01 689.93,537.05 690.58,537.08 691.22,537.1 691.87,537.13 692.51,537.16 693.16,537.18 693.81,537.2 694.45,537.22 695.1,537.24 695.74,537.25 696.39,537.27 697.04,537.28 697.68,537.3 698.33,537.31 698.98,537.32 699.62,537.33 700.27,537.34 700.91,537.35 701.56,537.36 702.21,537.37 702.85,537.38 703.5,537.38" fill="none" stroke="#000" stroke-width="1.8" stroke-dasharray="7.5 4.5"/>
<polyline points="445,537.4 445.65,537.4 446.29,537.4 446.94,537.4 447.59,537.4 448.23,537.4 448.88,537.39 449.52,537.39 450.17,537.39 450.82,537.39 451.46,537.39 452.11,537.39 452.76,537.38 453.4,537.38 454.05,537.38 454.69,537.38 455.34,537.38 455.99,537.37 456.63,537.37 457.28,537.37 457.93,537.37 458.57,537.37 459.22,537.36 459.86,537.36 460.51,537.36 461.16,537.36 461.8,537.35 462.45,537.35 463.09,537.35 463.74,537.35 464.39,537.35 465.03,537.34 465.68,537.34 466.33,537.34 466.97,537.34 467.62,537.33 468.26,537.33 468.91,537.33 469.56,537.32 470.2,537.32 470.85,537.32 471.5,537.32 472.14,537.31 472.79,537.31 473.44,537.31 474.08,537.3 474.73,537.3 475.37,537.3 476.02,537.29 476.67,537.29 477.31,537.29 477.96,537.28 478.61,537.28 479.25,537.28 479.9,537.27 480.54,537.27 481.19,537.27 481.84,537.26 482.48,537.26 483.13,537.25 483.77,537.25 484.42,537.24 485.07,537.24 485.71,537.24 486.36,537.23 487.01,537.23 487.65,537.22 488.3,537.22 488.94,537.21 489.59,537.2 490.24,537.2 490.88,537.19 491.53,537.19 492.18,537.18 492.82,537.17 493.47,537.17 494.11,537.16 494.76,537.15 495.41,537.14 496.05,537.13 496.7,537.12 497.35,537.12 497.99,537.1 498.64,537.09 499.29,537.08 499.93,537.07 500.58,537.05 501.22,537.04 501.87,537.02 502.52,537.01 503.16,536.99 503.81,536.97 504.46,536.95 505.1,536.92 505.75,536.9 506.39,536.87 507.04,536.84 507.69,536.81 508.33,536.77 508.98,536.73 509.62,536.69 510.27,536.64 510.92,536.59 511.56,536.54 512.21,536.48 512.86,536.41 513.5,536.34 514.15,536.26 514.79,536.18 515.44,536.09 516.09,535.99 516.73,535.88 517.38,535.76 518.03,535.63 518.67,535.49 519.32,535.34 519.96,535.17 520.61,534.99 521.26,534.8 521.9,534.59 522.55,534.36 523.2,534.11 523.84,533.85 524.49,533.56 525.14,533.25 525.78,532.92 526.43,532.56 527.07,532.18 527.72,531.76 528.37,531.32 529.01,530.85 529.66,530.34 530.31,529.8 530.95,529.22 531.6,528.6 532.24,527.94 532.89,527.24 533.54,526.49 534.18,525.7 534.83,524.86 535.48,523.97 536.12,523.03 536.77,522.03 537.41,520.98 538.06,519.87 538.71,518.7 539.35,517.47 540,516.18 540.64,514.82 541.29,513.39 541.94,511.9 542.58,510.34 543.23,508.71 543.88,507.02 544.52,505.24 545.17,503.4 545.81,501.49 546.46,499.5 547.11,497.44 547.75,495.31 548.4,493.1 549.05,490.83 549.69,488.48 550.34,486.07 550.99,483.58 551.63,481.03 552.28,478.42 552.92,475.75 553.57,473.01 554.22,470.22 554.86,467.38 555.51,464.49 556.16,461.55 556.8,458.58 557.45,455.56 558.09,452.51 558.74,449.44 559.39,446.34 560.03,443.23 560.68,440.11 561.33,436.98 561.97,433.86 562.62,430.74 563.26,427.64 563.91,424.56 564.56,421.51 565.2,418.49 565.85,415.52 566.49,412.6 567.14,409.74 567.79,406.94 568.43,404.21 569.08,401.56 569.73,399 570.37,396.53 571.02,394.16 571.66,391.9 572.31,389.75 572.96,387.73 573.6,385.82 574.25,384.06 574.9,382.42 575.54,380.93 576.19,379.59 576.84,378.4 577.48,377.37 578.13,376.49 578.77,375.78 579.42,375.22 580.07,374.84 580.71,374.62 581.36,374.57 582.01,374.69 582.65,374.97 583.3,375.42 583.94,376.04 584.59,376.82 585.24,377.75 585.88,378.85 586.53,380.1 587.17,381.5 587.82,383.05 588.47,384.73 589.11,386.55 589.76,388.51 590.41,390.58 591.05,392.77 591.7,395.08 592.34,397.48 592.99,399.99 593.64,402.59 594.28,405.27 594.93,408.02 595.58,410.85 596.22,413.74 596.87,416.68 597.51,419.67 598.16,422.7 598.81,425.76 599.45,428.85 600.1,431.96 600.75,435.08 601.39,438.21 602.04,441.33 602.69,444.45 603.33,447.56 603.98,450.65 604.62,453.71 605.27,456.75 605.92,459.75 606.56,462.71 607.21,465.63 607.86,468.5 608.5,471.32 609.15,474.09 609.79,476.8 610.44,479.45 611.09,482.04 611.73,484.56 612.38,487.02 613.02,489.41 613.67,491.73 614.32,493.98 614.96,496.15 615.61,498.26 616.26,500.29 616.9,502.25 617.55,504.13 618.19,505.95 618.84,507.69 619.49,509.36 620.13,510.96 620.78,512.5 621.43,513.96 622.07,515.36 622.72,516.69 623.36,517.96 624.01,519.17 624.66,520.31 625.3,521.4 625.95,522.43 626.6,523.4 627.24,524.33 627.89,525.2 628.54,526.02 629.18,526.79 629.83,527.52 630.47,528.2 631.12,528.85 631.77,529.45 632.41,530.01 633.06,530.54 633.71,531.04 634.35,531.5 635,531.93 635.64,532.33 636.29,532.7 636.94,533.05 637.58,533.37 638.23,533.67 638.88,533.95 639.52,534.21 640.17,534.45 640.81,534.67 641.46,534.87 642.11,535.06 642.75,535.24 643.4,535.4 644.04,535.54 644.69,535.68 645.34,535.81 645.98,535.92 646.63,536.03 647.28,536.12 647.92,536.21 648.57,536.3 649.21,536.37 649.86,536.44 650.51,536.5 651.15,536.56 651.8,536.61 652.45,536.66 653.09,536.71 653.74,536.75 654.39,536.79 655.03,536.82 655.68,536.85 656.32,536.88 656.97,536.91 657.62,536.93 658.26,536.96 658.91,536.98 659.56,537 660.2,537.01 660.85,537.03 661.49,537.05 662.14,537.06 662.79,537.07 663.43,537.09 664.08,537.1 664.73,537.11 665.37,537.12 666.02,537.13 666.66,537.14 667.31,537.15 667.96,537.15 668.6,537.16 669.25,537.17 669.89,537.18 670.54,537.18 671.19,537.19 671.83,537.2 672.48,537.2 673.13,537.21 673.77,537.21 674.42,537.22 675.06,537.22 675.71,537.23 676.36,537.23 677,537.24 677.65,537.24 678.3,537.25 678.94,537.25 679.59,537.25 680.24,537.26 680.88,537.26 681.53,537.27 682.17,537.27 682.82,537.27 683.47,537.28 684.11,537.28 684.76,537.29 685.41,537.29 686.05,537.29 686.7,537.3 687.34,537.3 687.99,537.3 688.64,537.31 689.28,537.31 689.93,537.31 690.58,537.31 691.22,537.32 691.87,537.32 692.51,537.32 693.16,537.33 693.81,537.33 694.45,537.33 695.1,537.33 695.74,537.34 696.39,537.34 697.04,537.34 697.68,537.34 698.33,537.35 698.98,537.35 699.62,537.35 700.27,537.35 700.91,537.36 701.56,537.36 702.21,537.36 702.85,537.36 703.5,537.36" fill="none" stroke="#000" stroke-width="1.8" stroke-dasharray="13 5 2 5"/>
<circle cx="446.8" cy="535.6" r="1.7"/>
<circle cx="450.86" cy="535.6" r="1.7"/>
<circle cx="454.91" cy="534.7" r="1.7"/>
<circle cx="458.97" cy="534.7" r="1.7"/>
<circle cx="463.02" cy="533.6" r="1.7"/>
<circle cx="467.07" cy="532.3" r="1.7"/>
<circle cx="471.13" cy="531.9" r="1.7"/>
<circle cx="475.19" cy="530.6" r="1.7"/>
<circle cx="479.24" cy="527.8" r="1.7"/>
<circle cx="483.3" cy="526.9" r="1.7"/>
<circle cx="487.35" cy="524.7" r="1.7"/>
<circle cx="491.41" cy="522.3" r="1.7"/>
<circle cx="495.46" cy="519.1" r="1.7"/>
<circle cx="499.51" cy="516.9" r="1.7"/>
<circle cx="503.57" cy="514.7" r="1.7"/>
<circle cx="507.62" cy="511.1" r="1.7"/>
<circle cx="511.68" cy="507.8" r="1.7"/>
<circle cx="515.74" cy="504.5" r="1.7"/>
<circle cx="519.79" cy="500" r="1.7"/>
<circle cx="523.85" cy="493.7" r="1.7"/>
<circle cx="527.9" cy="490.5" r="1.7"/>
<circle cx="531.96" cy="483.7" r="1.7"/>
<circle cx="536.01" cy="476.2" r="1.7"/>
<circle cx="540.07" cy="468.6" r="1.7"/>
<circle cx="544.12" cy="460.2" r="1.7"/>
<circle cx="548.17" cy="447" r="1.7"/>
<circle cx="552.23" cy="437.5" r="1.7"/>
<circle cx="556.28" cy="425.8" r="1.7"/>
<circle cx="560.34" cy="411.7" r="1.7"/>
<circle cx="564.39" cy="397.8" r="1.7"/>
<circle cx="568.45" cy="385.9" r="1.7"/>
<circle cx="572.5" cy="374" r="1.7"/>
<circle cx="576.56" cy="362" r="1.7"/>
<circle cx="580.62" cy="360.6" r="1.7"/>
<circle cx="584.67" cy="370.6" r="1.7"/>
<circle cx="588.73" cy="379.1" r="1.7"/>
<circle cx="592.78" cy="398" r="1.7"/>
<circle cx="596.84" cy="413.4" r="1.7"/>
<circle cx="600.89" cy="433.8" r="1.7"/>
<circle cx="604.94" cy="450.9" r="1.7"/>
<circle cx="609" cy="467.9" r="1.7"/>
<circle cx="613.06" cy="478.9" r="1.7"/>
<circle cx="617.11" cy="487" r="1.7"/>
<circle cx="621.16" cy="496.8" r="1.7"/>
<circle cx="625.22" cy="502.8" r="1.7"/>
<circle cx="629.27" cy="506.9" r="1.7"/>
<circle cx="633.33" cy="511.9" r="1.7"/>
<circle cx="637.38" cy="515.3" r="1.7"/>
<circle cx="641.44" cy="519.8" r="1.7"/>
<circle cx="645.5" cy="521.9" r="1.7"/>
<circle cx="649.55" cy="525.1" r="1.7"/>
<circle cx="653.61" cy="527.6" r="1.7"/>
<circle cx="657.66" cy="528.8" r="1.7"/>
<circle cx="661.72" cy="531.1" r="1.7"/>
<circle cx="665.77" cy="532.6" r="1.7"/>
<circle cx="669.83" cy="534.1" r="1.7"/>
<circle cx="673.88" cy="535.1" r="1.7"/>
<circle cx="677.93" cy="535.7" r="1.7"/>
<circle cx="681.99" cy="535.7" r="1.7"/>
<circle cx="686.04" cy="535.7" r="1.7"/>
<circle cx="690.1" cy="535.7" r="1.7"/>
<circle cx="694.15" cy="535.7" r="1.7"/>
<circle cx="698.21" cy="535.7" r="1.7"/>
<circle cx="702.26" cy="535.7" r="1.7"/>
</g>
<path d="M445,317H703.5V542" fill="none" stroke="#8c8c8c" stroke-width="1.3"/>
<path d="M445,317V542H703.5" fill="none" stroke="#222" stroke-width="1.4"/>
<line x1="445" y1="542" x2="449.5" y2="542" stroke="#000" stroke-width="1.3"/>
<text x="432.7" y="546.6" text-anchor="end" font-size="13.9" textLength="6.4" lengthAdjust="spacingAndGlyphs">0</text>
<line x1="445" y1="504.5" x2="449.5" y2="504.5" stroke="#000" stroke-width="1.3"/>
<text x="432.7" y="509.1" text-anchor="end" font-size="13.9" textLength="19.2" lengthAdjust="spacingAndGlyphs">500</text>
<line x1="445" y1="467" x2="449.5" y2="467" stroke="#000" stroke-width="1.3"/>
<text x="432.7" y="471.6" text-anchor="end" font-size="13.9" textLength="25.6" lengthAdjust="spacingAndGlyphs">1000</text>
<line x1="445" y1="429.5" x2="449.5" y2="429.5" stroke="#000" stroke-width="1.3"/>
<text x="432.7" y="434.1" text-anchor="end" font-size="13.9" textLength="25.6" lengthAdjust="spacingAndGlyphs">1500</text>
<line x1="445" y1="392" x2="449.5" y2="392" stroke="#000" stroke-width="1.3"/>
<text x="432.7" y="396.6" text-anchor="end" font-size="13.9" textLength="25.6" lengthAdjust="spacingAndGlyphs">2000</text>
<line x1="445" y1="354.5" x2="449.5" y2="354.5" stroke="#000" stroke-width="1.3"/>
<text x="432.7" y="359.1" text-anchor="end" font-size="13.9" textLength="25.6" lengthAdjust="spacingAndGlyphs">2500</text>
<line x1="445" y1="317" x2="449.5" y2="317" stroke="#000" stroke-width="1.3"/>
<text x="432.7" y="321.6" text-anchor="end" font-size="13.9" textLength="25.6" lengthAdjust="spacingAndGlyphs">3000</text>
<line x1="445" y1="542" x2="445" y2="537.5" stroke="#000" stroke-width="1.3"/>
<text x="445" y="565.3" text-anchor="middle" font-size="13.9" textLength="19.2" lengthAdjust="spacingAndGlyphs">292</text>
<line x1="496.7" y1="542" x2="496.7" y2="537.5" stroke="#000" stroke-width="1.3"/>
<text x="496.7" y="565.3" text-anchor="middle" font-size="13.9" textLength="19.2" lengthAdjust="spacingAndGlyphs">290</text>
<line x1="548.4" y1="542" x2="548.4" y2="537.5" stroke="#000" stroke-width="1.3"/>
<text x="548.4" y="565.3" text-anchor="middle" font-size="13.9" textLength="19.2" lengthAdjust="spacingAndGlyphs">288</text>
<line x1="600.1" y1="542" x2="600.1" y2="537.5" stroke="#000" stroke-width="1.3"/>
<text x="600.1" y="565.3" text-anchor="middle" font-size="13.9" textLength="19.2" lengthAdjust="spacingAndGlyphs">286</text>
<line x1="651.8" y1="542" x2="651.8" y2="537.5" stroke="#000" stroke-width="1.3"/>
<text x="651.8" y="565.3" text-anchor="middle" font-size="13.9" textLength="19.2" lengthAdjust="spacingAndGlyphs">284</text>
<line x1="703.5" y1="542" x2="703.5" y2="537.5" stroke="#000" stroke-width="1.3"/>
<text x="703.5" y="565.3" text-anchor="middle" font-size="13.9" textLength="19.2" lengthAdjust="spacingAndGlyphs">282</text>
<text x="574.25" y="587.0" text-anchor="middle" font-size="13.7" textLength="103.5" lengthAdjust="spacingAndGlyphs">Binding energy/eV</text>
<text transform="translate(399.0,422.8) rotate(-90)" text-anchor="middle" font-size="13.7" textLength="135" lengthAdjust="spacingAndGlyphs">Counts/s (Residuals x 5)</text>
<text x="665.8" y="351.9" font-size="24.5">d</text>
<circle cx="475.6" cy="327.9" r="1.7"/>
<line x1="457.8" y1="345.58" x2="494.5" y2="345.58" stroke="#d51a1a" stroke-width="2"/>
<line x1="457.8" y1="363.26" x2="488.5" y2="363.26" stroke="#000" stroke-width="1.9" stroke-dasharray="7.6 4.2"/>
<line x1="457.8" y1="380.94" x2="494.5" y2="380.94" stroke="#000" stroke-width="1.9" stroke-dasharray="13 5 2 5"/>
<line x1="457.8" y1="398.62" x2="494.5" y2="398.62" stroke="#000" stroke-width="1.9" stroke-dasharray="4.6 2"/>
<line x1="457.8" y1="416.3" x2="494.5" y2="416.3" stroke="#000" stroke-width="1.9"/>
<text x="498.5" y="332.5" font-size="13.7" textLength="101.5" lengthAdjust="spacingAndGlyphs">Experimental data</text>
<text x="498.5" y="350.18" font-size="13.7" textLength="51.4" lengthAdjust="spacingAndGlyphs">Envelope</text>
<text x="498.5" y="367.86" font-size="13.7" textLength="58.1" lengthAdjust="spacingAndGlyphs">C-Hx, C-C</text>
<text x="498.5" y="385.54" font-size="13.7" textLength="23.1" lengthAdjust="spacingAndGlyphs">C-O</text>
<text x="498.5" y="403.22" font-size="13.7" textLength="36.1" lengthAdjust="spacingAndGlyphs">O-C-O</text>
<text x="498.5" y="420.9" font-size="13.7" textLength="38.9" lengthAdjust="spacingAndGlyphs">O-C=O</text>
</svg>
</body></html>
